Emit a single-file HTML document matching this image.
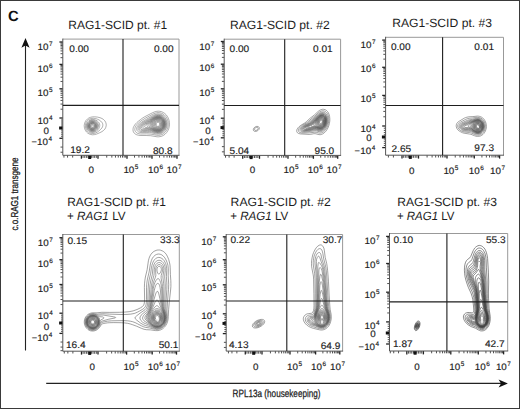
<!DOCTYPE html>
<html><head><meta charset="utf-8"><style>
html,body{margin:0;padding:0;background:#fff;}
body{width:520px;height:409px;overflow:hidden;font-family:"Liberation Sans",sans-serif;}
svg{display:block;text-rendering:geometricPrecision;}
</style></head><body>
<svg width="520" height="409" viewBox="0 0 520 409" font-family="Liberation Sans, sans-serif">
<rect width="520" height="409" fill="#fff"/>
<path d="M62.80 39.10 H179.00 V155.30" fill="none" stroke="#999" stroke-width="1"/>
<path d="M61.00 136.24H62.80M83.06 155.30V157.90M61.00 134.18H62.80M84.72 155.30V157.90M61.00 132.12H62.80M86.38 155.30V157.90M61.00 130.06H62.80M88.04 155.30V157.90M61.00 126.00H62.80M91.36 155.30V157.90M61.00 124.00H62.80M93.02 155.30V157.90M61.00 122.00H62.80M94.68 155.30V157.90M61.00 120.00H62.80M96.34 155.30V157.90M60.50 109.21H62.80M106.73 155.30V157.60M60.50 147.09H62.80M72.67 155.30V157.60M60.50 104.07H62.80M111.84 155.30V157.60M60.50 152.23H62.80M67.56 155.30V157.60M60.50 100.42H62.80M115.46 155.30V157.60M63.94 155.30V157.60M60.50 97.59H62.80M118.27 155.30V157.60M60.50 95.28H62.80M120.57 155.30V157.60M60.50 93.32H62.80M122.51 155.30V157.60M60.50 91.63H62.80M124.19 155.30V157.60M60.50 90.14H62.80M125.67 155.30V157.60M60.50 81.45H62.80M134.53 155.30V157.60M60.50 77.16H62.80M138.93 155.30V157.60M60.50 74.11H62.80M142.05 155.30V157.60M60.50 71.75H62.80M144.47 155.30V157.60M60.50 69.81H62.80M146.45 155.30V157.60M60.50 68.18H62.80M148.13 155.30V157.60M60.50 66.76H62.80M149.58 155.30V157.60M60.50 65.52H62.80M150.86 155.30V157.60M60.50 57.66H62.80M159.53 155.30V157.60M60.50 53.71H62.80M163.93 155.30V157.60M60.50 50.91H62.80M167.05 155.30V157.60M60.50 48.74H62.80M169.47 155.30V157.60M60.50 46.97H62.80M171.45 155.30V157.60M60.50 45.47H62.80M173.13 155.30V157.60M60.50 44.17H62.80M174.58 155.30V157.60M60.50 43.02H62.80M175.86 155.30V157.60" stroke="#505050" stroke-width="1"/>
<path d="M59.40 118.00H62.80" stroke="#222" stroke-width="1.3"/><path d="M98.00 155.30V158.70" stroke="#222" stroke-width="1.3"/><path d="M59.40 138.30H62.80" stroke="#222" stroke-width="1.3"/><path d="M81.40 155.30V158.70" stroke="#222" stroke-width="1.3"/><path d="M59.40 88.80H62.80" stroke="#222" stroke-width="1.3"/><path d="M127.00 155.30V158.70" stroke="#222" stroke-width="1.3"/><path d="M59.40 64.40H62.80" stroke="#222" stroke-width="1.3"/><path d="M152.00 155.30V158.70" stroke="#222" stroke-width="1.3"/><path d="M59.40 42.00H62.80" stroke="#222" stroke-width="1.3"/><path d="M177.00 155.30V158.70" stroke="#222" stroke-width="1.3"/><path d="M59.10 128.00H62.80" stroke="#111" stroke-width="3.0"/><path d="M89.70 155.30V159.00" stroke="#111" stroke-width="3.0"/>
<path d="M62.80 38.60 V155.30 H179.50" fill="none" stroke="#555" stroke-width="1"/>
<g fill="none" stroke="#5e5e5e" stroke-width="0.5" stroke-linejoin="round"><path d="M160.1 136.6 158.6 136.8 157.1 136.8 150.6 135.7 146.1 135.5 140.1 135.5 138.3 135.2 137.1 134.9 136.1 134.5 135.0 133.8 134.2 133.1 133.5 132.1 133.1 131.1 133.0 129.8 133.1 128.6 133.3 127.6 133.9 126.3 134.6 125.1 135.6 123.8 136.8 122.6 138.3 121.3 140.6 119.5 142.8 117.9 144.8 116.7 152.6 112.7 155.1 111.7 156.8 111.3 158.3 111.2 159.8 111.3 161.6 111.7 163.3 112.5 164.8 113.5 166.2 114.8 167.5 116.6 168.5 118.6 169.1 120.6 169.4 122.6 169.5 124.8 169.2 126.8 168.7 128.8 167.8 130.8 166.6 132.6 165.2 134.1 163.6 135.3 161.8 136.2 160.1 136.6Z"/><path d="M94.5 134.6 92.5 134.8 90.8 134.5 89.3 134.0 87.8 133.2 86.5 132.0 85.5 130.6 84.7 128.8 84.3 127.1 84.2 125.3 84.6 123.3 85.2 121.8 86.1 120.3 87.3 119.1 88.8 118.0 90.5 117.3 92.3 116.9 94.5 116.8 97.5 117.1 100.0 117.7 102.0 118.5 103.5 119.5 104.8 120.8 105.7 122.3 106.2 124.1 106.2 125.8 105.7 127.6 104.9 129.1 103.7 130.3 102.0 131.6 99.8 132.7 96.8 134.0 94.5 134.6Z"/><path d="M158.6 135.4 156.3 135.2 152.0 134.3 150.1 134.1 146.6 133.9 140.8 134.0 139.3 133.8 138.1 133.5 137.1 133.1 136.3 132.5 135.6 131.8 135.2 131.1 134.9 130.3 134.8 129.3 134.9 128.6 135.1 127.6 135.6 126.3 136.3 125.3 137.3 124.1 138.3 123.1 141.3 120.7 145.3 118.2 152.8 114.2 155.1 113.2 156.6 112.8 158.1 112.6 159.6 112.7 161.1 113.1 162.6 113.7 164.3 114.9 165.7 116.3 166.7 117.8 167.5 119.6 168.0 121.3 168.2 123.3 168.2 125.3 167.9 127.1 167.2 129.1 166.2 130.8 165.0 132.3 163.6 133.6 162.1 134.5 160.3 135.1 158.6 135.4Z"/><path d="M94.0 133.4 92.5 133.5 91.3 133.4 89.8 133.0 88.5 132.3 87.5 131.3 86.5 130.1 85.9 128.8 85.4 127.1 85.4 125.6 85.6 124.1 86.1 122.6 86.8 121.3 87.8 120.3 89.0 119.3 90.3 118.7 92.0 118.3 93.8 118.3 95.5 118.5 97.5 119.2 99.3 120.1 100.7 121.1 101.7 122.1 102.5 123.3 102.8 124.6 102.8 125.8 102.5 126.8 101.8 128.1 100.7 129.3 99.0 130.8 97.3 132.1 95.5 133.0 94.0 133.4Z"/><path d="M160.1 133.9 158.6 134.1 156.8 134.0 155.3 133.8 151.6 132.8 149.3 132.6 146.8 132.5 142.1 132.6 139.8 132.4 138.3 131.8 137.6 131.2 137.1 130.6 136.7 129.3 136.6 128.6 136.7 127.8 137.1 126.8 137.7 125.8 139.2 124.1 141.6 122.2 145.1 120.0 153.1 115.4 155.1 114.5 156.3 114.2 157.8 113.9 159.1 114.0 160.3 114.2 161.8 114.7 163.1 115.5 164.1 116.3 165.1 117.6 166.0 119.1 166.6 120.6 167.0 122.3 167.1 124.1 167.0 125.8 166.6 127.3 166.0 128.8 165.1 130.3 164.1 131.6 162.8 132.6 161.3 133.5 160.1 133.9Z"/><path d="M93.3 132.4 92.0 132.4 90.8 132.2 89.5 131.6 88.5 130.9 87.8 130.1 87.1 129.1 86.6 127.8 86.4 126.6 86.4 125.1 86.7 123.8 87.3 122.6 88.0 121.6 89.0 120.6 90.0 120.0 91.0 119.7 92.3 119.4 93.5 119.5 94.8 119.7 96.0 120.2 97.3 121.0 98.2 121.8 99.0 122.8 99.5 123.8 99.8 125.1 99.7 126.3 99.4 127.3 98.8 128.6 97.9 129.8 96.8 130.8 95.8 131.5 94.5 132.1 93.3 132.4Z"/><path d="M159.6 133.1 158.1 133.3 156.6 133.1 151.6 131.9 149.3 131.5 147.1 131.4 142.6 131.6 140.6 131.4 139.3 130.8 138.7 130.3 138.3 129.8 138.0 128.8 138.1 127.6 138.5 126.6 139.3 125.4 140.3 124.3 141.5 123.3 144.1 121.7 149.5 118.6 153.1 116.4 154.8 115.5 156.6 114.9 158.3 114.8 160.1 115.0 161.3 115.4 162.6 116.1 163.7 117.1 164.7 118.3 165.4 119.6 166.0 121.1 166.3 122.6 166.4 124.3 166.2 126.1 165.7 127.6 165.2 128.8 164.3 130.1 163.4 131.1 162.3 132.0 161.1 132.7 159.6 133.1Z"/><path d="M93.3 131.6 92.3 131.7 91.3 131.5 90.3 131.2 89.3 130.6 88.5 129.8 87.8 128.8 87.4 127.8 87.1 126.6 87.1 125.3 87.3 124.3 87.7 123.3 88.3 122.3 89.0 121.6 90.0 120.9 91.0 120.4 92.0 120.2 93.3 120.2 94.3 120.4 95.3 120.8 96.3 121.5 97.0 122.1 97.8 123.1 98.2 124.1 98.5 125.1 98.5 126.3 98.2 127.3 97.8 128.3 97.1 129.3 96.3 130.2 95.3 130.9 94.3 131.4 93.3 131.6Z"/><path d="M158.3 132.6 156.1 132.4 151.6 131.1 149.6 130.7 147.3 130.6 143.1 130.7 141.3 130.5 140.3 130.1 139.5 129.3 139.2 128.3 139.3 127.3 139.6 126.6 140.3 125.6 141.3 124.6 142.3 123.8 144.6 122.3 149.3 119.6 153.8 116.7 155.3 116.0 157.1 115.5 158.6 115.4 160.1 115.6 161.3 116.1 162.6 116.9 163.6 117.8 164.5 119.1 165.2 120.6 165.6 122.1 165.8 123.6 165.8 125.1 165.5 126.6 164.9 128.1 164.2 129.3 163.3 130.4 162.3 131.2 161.1 132.0 159.8 132.4 158.3 132.6Z"/><path d="M93.8 130.9 92.8 131.1 91.8 131.0 90.8 130.8 90.0 130.4 89.3 129.8 88.5 129.0 88.0 128.1 87.7 127.1 87.6 126.1 87.7 125.1 87.9 124.1 88.4 123.1 89.0 122.3 89.8 121.7 90.5 121.3 91.5 120.9 92.5 120.8 93.5 120.9 94.5 121.2 95.3 121.6 96.3 122.3 96.9 123.1 97.4 124.1 97.6 124.8 97.7 125.8 97.6 126.8 97.3 127.8 96.9 128.6 96.3 129.3 95.5 130.0 94.8 130.5 93.8 130.9Z"/><path d="M158.1 132.1 157.1 132.1 155.8 131.8 151.6 130.5 149.6 130.0 147.6 129.9 143.6 130.0 142.1 129.8 141.1 129.3 140.6 128.8 140.3 128.1 140.3 127.3 140.6 126.6 141.1 125.8 142.8 124.3 144.6 123.1 149.3 120.3 153.8 117.3 155.6 116.4 157.1 116.0 158.6 115.9 160.1 116.2 161.3 116.7 162.6 117.5 163.6 118.6 164.2 119.6 164.8 120.8 165.2 122.3 165.4 123.8 165.3 125.1 165.0 126.6 164.5 127.8 163.8 129.1 162.8 130.2 161.8 131.0 160.6 131.6 159.3 132.0 158.1 132.1Z"/><path d="M93.8 130.4 93.0 130.6 92.0 130.6 91.0 130.4 90.3 130.0 89.5 129.4 89.0 128.8 88.6 128.1 88.2 127.1 88.1 126.3 88.1 125.3 88.3 124.3 88.7 123.6 89.2 122.8 89.8 122.3 90.5 121.8 91.5 121.4 92.5 121.3 93.3 121.4 94.3 121.7 95.0 122.1 95.7 122.6 96.4 123.3 96.8 124.1 97.0 124.8 97.1 125.6 97.1 126.6 96.5 128.1 96.0 128.8 95.3 129.6 94.5 130.1 93.8 130.4Z"/><path d="M158.8 131.6 157.6 131.7 156.1 131.4 151.3 129.8 149.6 129.4 147.6 129.2 144.1 129.2 142.8 129.0 142.3 128.8 141.7 128.3 141.5 127.8 141.5 127.1 141.7 126.6 142.2 125.8 143.6 124.6 149.1 121.1 154.1 117.6 155.6 116.9 157.1 116.4 158.6 116.4 159.8 116.6 161.1 117.0 162.0 117.6 162.8 118.3 163.6 119.3 164.3 120.6 164.7 121.8 164.9 123.1 165.0 124.6 164.8 125.8 164.4 127.1 163.8 128.3 163.1 129.4 162.1 130.3 161.1 130.9 159.8 131.4 158.8 131.6Z"/><path d="M93.0 130.1 92.3 130.2 91.5 130.1 90.8 129.8 90.0 129.3 89.5 128.8 89.0 128.1 88.7 127.3 88.5 126.6 88.5 125.6 88.6 124.8 88.9 124.1 89.3 123.4 89.8 122.8 90.5 122.3 91.3 121.9 92.0 121.8 92.8 121.7 93.5 121.9 94.3 122.1 95.0 122.6 95.6 123.1 96.1 123.8 96.4 124.6 96.6 125.3 96.5 126.8 96.3 127.6 95.8 128.4 95.2 129.1 94.5 129.6 93.8 129.9 93.0 130.1Z"/><path d="M159.6 131.1 158.1 131.3 156.6 131.2 155.1 130.8 151.6 129.4 149.8 128.9 148.1 128.6 144.1 128.3 143.5 128.1 143.1 127.8 142.8 127.3 142.8 126.8 143.4 125.8 144.5 124.8 149.1 121.8 152.8 118.8 154.3 117.9 155.8 117.2 157.1 116.8 158.6 116.7 159.8 116.9 160.8 117.3 161.8 117.9 162.6 118.6 163.4 119.6 163.9 120.6 164.4 121.8 164.6 123.1 164.7 124.1 164.5 125.3 164.2 126.6 163.8 127.6 163.2 128.6 162.6 129.4 161.6 130.2 160.6 130.8 159.6 131.1Z"/><path d="M93.5 129.6 92.8 129.8 92.0 129.8 90.8 129.4 90.0 128.9 89.6 128.3 89.0 127.1 88.8 126.3 88.8 125.6 89.0 124.8 89.3 124.1 89.8 123.3 90.3 122.9 91.5 122.2 92.3 122.1 93.0 122.2 94.3 122.6 95.0 123.1 95.5 123.6 96.1 124.8 96.2 125.6 96.2 126.3 96.0 127.1 95.7 127.8 94.8 128.9 93.5 129.6Z"/><path d="M159.1 130.9 157.3 130.9 155.6 130.6 150.1 128.3 148.6 127.9 145.4 127.3 144.9 127.1 144.7 126.8 144.7 126.3 145.1 125.6 145.9 124.8 149.3 122.3 152.8 119.3 154.3 118.3 155.8 117.5 157.1 117.2 158.6 117.1 159.8 117.3 160.8 117.7 161.6 118.1 162.4 118.8 163.2 119.8 163.7 120.8 164.1 122.1 164.3 123.3 164.4 124.3 164.2 125.6 163.9 126.6 163.5 127.6 162.8 128.6 162.1 129.4 161.1 130.2 160.1 130.6 159.1 130.9Z"/><path d="M93.0 129.4 91.8 129.4 91.0 129.1 90.5 128.8 89.7 127.8 89.2 126.6 89.2 125.8 89.3 125.1 89.8 123.9 90.3 123.3 90.8 123.0 92.0 122.5 93.3 122.6 94.0 122.8 94.5 123.2 95.3 124.1 95.8 125.3 95.8 126.6 95.3 127.8 94.3 128.8 93.0 129.4Z"/><path d="M158.8 130.6 157.8 130.7 156.8 130.6 154.8 130.0 150.6 128.0 147.8 126.8 147.0 126.3 146.9 125.8 147.2 125.1 147.8 124.3 153.3 119.3 154.6 118.5 155.6 117.9 156.6 117.6 157.6 117.4 158.8 117.4 159.8 117.6 160.9 118.1 161.9 118.8 162.8 119.8 163.4 120.8 163.9 122.1 164.1 123.3 164.1 124.6 163.9 125.8 163.4 127.1 162.8 128.1 162.1 129.0 161.1 129.8 160.1 130.3 158.8 130.6Z"/><path d="M93.5 128.9 92.3 129.1 91.3 128.9 90.3 128.1 89.7 127.1 89.5 125.8 89.8 124.6 90.5 123.6 91.5 123.0 92.8 122.9 93.8 123.2 94.7 123.8 95.3 124.8 95.5 125.8 95.3 127.1 94.5 128.2 93.5 128.9Z"/><path d="M159.6 130.1 158.6 130.3 157.3 130.3 156.1 130.1 154.8 129.6 152.8 128.6 149.9 126.8 149.0 126.1 148.8 125.6 148.8 124.8 149.4 123.8 150.7 122.3 152.3 120.6 153.6 119.5 154.8 118.7 155.8 118.2 157.1 117.8 158.3 117.7 159.3 117.8 160.3 118.1 161.3 118.7 162.1 119.4 162.8 120.3 163.3 121.3 163.7 122.6 163.8 123.8 163.7 125.1 163.4 126.3 162.9 127.3 162.3 128.3 161.6 129.1 160.6 129.7 159.6 130.1Z"/><path d="M93.0 128.6 92.0 128.7 91.0 128.3 90.4 127.6 89.9 126.6 89.9 125.6 90.3 124.4 91.0 123.7 92.0 123.3 93.0 123.3 93.8 123.6 94.6 124.3 95.0 125.3 95.0 126.3 94.7 127.3 94.0 128.1 93.0 128.6Z"/><path d="M159.1 129.9 158.1 130.0 156.8 129.9 155.6 129.5 154.3 129.0 152.4 127.8 151.1 126.8 150.4 126.1 150.1 125.3 150.2 124.3 150.6 123.3 151.7 121.8 152.9 120.6 154.1 119.6 155.3 118.8 156.6 118.3 157.6 118.1 158.6 118.0 159.6 118.2 160.6 118.6 161.3 119.1 162.1 119.9 162.7 120.8 163.1 121.8 163.4 123.1 163.5 124.3 163.4 125.3 163.0 126.6 162.4 127.6 161.8 128.4 160.9 129.1 160.1 129.6 159.1 129.9Z"/><path d="M93.0 128.1 92.0 128.2 91.3 127.9 90.7 127.3 90.4 126.6 90.3 125.6 90.6 124.8 91.0 124.3 91.8 123.8 92.8 123.8 93.5 124.0 94.2 124.6 94.5 125.3 94.6 126.3 94.3 127.1 93.8 127.7 93.0 128.1Z"/><path d="M158.6 129.6 157.6 129.6 156.3 129.4 155.1 128.9 154.0 128.3 152.9 127.6 151.8 126.6 151.1 125.6 151.0 124.8 151.1 123.8 151.6 122.8 152.5 121.6 153.6 120.5 154.6 119.7 155.6 119.0 156.8 118.6 157.8 118.4 158.8 118.4 159.8 118.7 160.8 119.2 161.6 119.8 162.2 120.6 162.7 121.6 163.0 122.6 163.2 123.6 163.1 124.8 162.9 125.8 162.5 126.8 162.0 127.6 161.3 128.4 160.6 128.9 159.6 129.4 158.6 129.6Z"/><path d="M92.5 127.6 91.8 127.5 91.3 127.1 91.0 126.6 90.9 126.1 91.0 125.3 91.3 124.8 91.8 124.4 92.3 124.3 93.0 124.4 93.5 124.8 93.9 125.3 94.0 125.8 93.9 126.6 93.6 127.1 93.0 127.5 92.5 127.6Z"/><path d="M159.3 129.1 158.3 129.3 157.3 129.3 156.3 129.0 155.1 128.5 153.8 127.7 152.8 126.8 152.2 126.1 151.8 125.1 151.7 124.3 152.0 123.3 152.5 122.3 153.3 121.3 154.1 120.5 155.1 119.7 156.1 119.2 157.1 118.9 158.1 118.7 158.8 118.8 159.8 119.1 160.6 119.4 161.3 120.1 161.9 120.8 162.4 121.6 162.7 122.6 162.9 123.6 162.8 124.6 162.6 125.6 162.2 126.6 161.8 127.3 161.1 128.1 160.3 128.7 159.3 129.1Z"/><path d="M92.8 126.7 92.3 126.8 91.9 126.6 91.7 126.3 91.7 125.8 91.8 125.5 92.0 125.3 92.5 125.2 92.9 125.3 93.1 125.6 93.2 126.1 93.0 126.4 92.8 126.7Z"/><path d="M158.1 128.9 157.1 128.8 156.1 128.5 155.1 128.0 154.1 127.3 153.4 126.6 152.8 125.8 152.6 125.1 152.5 124.3 152.6 123.6 153.0 122.6 153.7 121.6 154.4 120.8 155.3 120.1 156.1 119.7 157.1 119.3 158.1 119.2 159.1 119.3 159.8 119.5 160.6 120.0 161.2 120.6 161.8 121.3 162.1 122.1 162.4 123.1 162.5 124.1 162.4 125.1 162.1 126.1 161.6 126.8 161.1 127.6 159.8 128.5 159.1 128.7 158.1 128.9Z"/><path d="M159.1 128.2 158.3 128.3 157.3 128.3 156.3 128.0 155.6 127.6 154.8 127.1 154.0 126.3 153.6 125.6 153.3 124.8 153.3 124.1 153.4 123.3 153.7 122.6 154.2 121.8 154.9 121.1 155.6 120.6 156.3 120.1 157.3 119.8 158.1 119.7 158.8 119.8 159.6 120.0 160.3 120.4 160.8 120.9 161.4 121.6 161.7 122.3 161.9 123.1 162.0 123.8 161.9 124.8 161.4 126.3 160.8 127.1 160.3 127.6 159.1 128.2Z"/><path d="M159.1 127.6 158.3 127.8 157.6 127.8 156.8 127.6 156.1 127.3 155.4 126.8 154.8 126.3 154.3 125.6 154.1 124.8 154.1 123.6 154.3 122.8 154.8 122.1 155.8 121.0 156.6 120.6 157.3 120.3 158.6 120.3 159.8 120.7 160.3 121.1 160.8 121.7 161.2 122.3 161.4 123.1 161.5 124.6 161.1 125.8 160.3 126.9 159.8 127.3 159.1 127.6Z"/><path d="M158.6 127.2 157.3 127.1 156.1 126.6 155.5 126.1 155.1 125.6 154.7 124.6 154.8 123.3 155.3 122.3 156.3 121.4 157.6 120.9 158.8 120.9 159.7 121.3 160.6 122.3 160.9 123.3 160.9 124.6 160.4 125.8 159.6 126.7 158.6 127.2Z"/><path d="M158.8 126.4 157.8 126.5 156.8 126.3 156.1 125.7 155.6 124.8 155.4 123.8 155.8 122.8 156.4 122.1 157.3 121.6 158.3 121.5 159.1 121.7 159.8 122.3 160.2 123.1 160.4 124.1 160.1 125.1 159.6 125.9 158.8 126.4Z"/><path d="M158.6 125.7 158.1 125.8 157.3 125.6 156.8 125.3 156.3 124.6 156.3 123.8 156.6 123.1 157.0 122.6 157.6 122.3 158.3 122.3 158.8 122.5 159.3 122.8 159.6 123.3 159.7 124.1 159.6 124.6 159.1 125.3 158.6 125.7Z"/></g>
<ellipse cx="157.8" cy="125.3" rx="1.0" ry="1.0" fill="#fff" fill-opacity="0.8"/>
<ellipse cx="92.5" cy="126.2" rx="0.8" ry="0.8" fill="#fff" fill-opacity="0.6"/>
<path d="M62.80 105.40 H179.00 M123.00 39.10 V155.30" stroke="#1e1e1e" stroke-width="1.1"/>
<text x="37.55" y="50.00" font-size="9.2" text-anchor="start" fill="#1c1c1c" stroke="#1c1c1c" stroke-width="0.15" textLength="10.95" lengthAdjust="spacingAndGlyphs">10</text>
<text x="49.00" y="46.10" font-size="6.4" text-anchor="start" fill="#1c1c1c" stroke="#1c1c1c" stroke-width="0.15" >7</text>
<text x="37.55" y="71.70" font-size="9.2" text-anchor="start" fill="#1c1c1c" stroke="#1c1c1c" stroke-width="0.15" textLength="10.95" lengthAdjust="spacingAndGlyphs">10</text>
<text x="49.00" y="67.80" font-size="6.4" text-anchor="start" fill="#1c1c1c" stroke="#1c1c1c" stroke-width="0.15" >6</text>
<text x="37.55" y="96.00" font-size="9.2" text-anchor="start" fill="#1c1c1c" stroke="#1c1c1c" stroke-width="0.15" textLength="10.95" lengthAdjust="spacingAndGlyphs">10</text>
<text x="49.00" y="92.10" font-size="6.4" text-anchor="start" fill="#1c1c1c" stroke="#1c1c1c" stroke-width="0.15" >5</text>
<text x="37.55" y="123.50" font-size="9.2" text-anchor="start" fill="#1c1c1c" stroke="#1c1c1c" stroke-width="0.15" textLength="10.95" lengthAdjust="spacingAndGlyphs">10</text>
<text x="49.00" y="119.60" font-size="6.4" text-anchor="start" fill="#1c1c1c" stroke="#1c1c1c" stroke-width="0.15" >4</text>
<text x="49.00" y="134.00" font-size="9.2" text-anchor="end" fill="#1c1c1c" stroke="#1c1c1c" stroke-width="0.15" textLength="5.47" lengthAdjust="spacingAndGlyphs">0</text>
<text x="36.75" y="145.20" font-size="9.2" text-anchor="end" fill="#1c1c1c" stroke="#1c1c1c" stroke-width="0.15" >−</text>
<text x="37.05" y="145.20" font-size="9.2" text-anchor="start" fill="#1c1c1c" stroke="#1c1c1c" stroke-width="0.15" textLength="10.95" lengthAdjust="spacingAndGlyphs">10</text>
<text x="48.50" y="141.30" font-size="6.4" text-anchor="start" fill="#1c1c1c" stroke="#1c1c1c" stroke-width="0.15" >4</text>
<text x="88.60" y="173.00" font-size="9.2" text-anchor="start" fill="#1c1c1c" stroke="#1c1c1c" stroke-width="0.15" textLength="5.47" lengthAdjust="spacingAndGlyphs">0</text>
<text x="123.40" y="172.90" font-size="9.2" text-anchor="start" fill="#1c1c1c" stroke="#1c1c1c" stroke-width="0.15" textLength="10.95" lengthAdjust="spacingAndGlyphs">10</text>
<text x="134.85" y="169.00" font-size="6.4" text-anchor="start" fill="#1c1c1c" stroke="#1c1c1c" stroke-width="0.15" >5</text>
<text x="148.00" y="172.90" font-size="9.2" text-anchor="start" fill="#1c1c1c" stroke="#1c1c1c" stroke-width="0.15" textLength="10.95" lengthAdjust="spacingAndGlyphs">10</text>
<text x="159.45" y="169.00" font-size="6.4" text-anchor="start" fill="#1c1c1c" stroke="#1c1c1c" stroke-width="0.15" >6</text>
<text x="166.50" y="172.90" font-size="9.2" text-anchor="start" fill="#1c1c1c" stroke="#1c1c1c" stroke-width="0.15" textLength="10.95" lengthAdjust="spacingAndGlyphs">10</text>
<text x="177.95" y="169.00" font-size="6.4" text-anchor="start" fill="#1c1c1c" stroke="#1c1c1c" stroke-width="0.15" >7</text>
<text x="69.30" y="52.00" font-size="9.6" text-anchor="start" fill="#1c1c1c" stroke="#1c1c1c" stroke-width="0.15" textLength="19.62" lengthAdjust="spacingAndGlyphs">0.00</text>
<text x="173.60" y="52.00" font-size="9.6" text-anchor="end" fill="#1c1c1c" stroke="#1c1c1c" stroke-width="0.15" textLength="19.62" lengthAdjust="spacingAndGlyphs">0.00</text>
<text x="70.20" y="152.80" font-size="9.6" text-anchor="start" fill="#1c1c1c" stroke="#1c1c1c" stroke-width="0.15" textLength="19.62" lengthAdjust="spacingAndGlyphs">19.2</text>
<text x="172.60" y="154.20" font-size="9.6" text-anchor="end" fill="#1c1c1c" stroke="#1c1c1c" stroke-width="0.15" textLength="19.62" lengthAdjust="spacingAndGlyphs">80.8</text>
<path d="M224.20 39.20 H340.60 V155.40" fill="none" stroke="#999" stroke-width="1"/>
<path d="M222.40 135.76H224.20M244.38 155.40V158.00M222.40 133.72H224.20M246.06 155.40V158.00M222.40 131.68H224.20M247.74 155.40V158.00M222.40 129.64H224.20M249.42 155.40V158.00M222.40 125.72H224.20M252.78 155.40V158.00M222.40 123.84H224.20M254.46 155.40V158.00M222.40 121.96H224.20M256.14 155.40V158.00M222.40 120.08H224.20M257.82 155.40V158.00M221.90 109.35H224.20M268.08 155.40V157.70M221.90 146.65H224.20M234.12 155.40V157.70M221.90 104.17H224.20M273.10 155.40V157.70M221.90 151.83H224.20M229.10 155.40V157.70M221.90 100.50H224.20M276.66 155.40V157.70M225.54 155.40V157.70M221.90 97.65H224.20M279.42 155.40V157.70M221.90 95.32H224.20M281.68 155.40V157.70M221.90 93.35H224.20M283.59 155.40V157.70M221.90 91.65H224.20M285.24 155.40V157.70M221.90 90.15H224.20M286.70 155.40V157.70M221.90 81.39H224.20M295.65 155.40V157.70M221.90 77.06H224.20M300.12 155.40V157.70M221.90 73.99H224.20M303.29 155.40V157.70M221.90 71.61H224.20M305.75 155.40V157.70M221.90 69.66H224.20M307.77 155.40V157.70M221.90 68.01H224.20M309.47 155.40V157.70M221.90 66.58H224.20M310.94 155.40V157.70M221.90 65.33H224.20M312.24 155.40V157.70M221.90 57.37H224.20M320.72 155.40V157.70M221.90 53.37H224.20M324.99 155.40V157.70M221.90 50.53H224.20M328.03 155.40V157.70M221.90 48.33H224.20M330.38 155.40V157.70M221.90 46.54H224.20M332.31 155.40V157.70M221.90 45.02H224.20M333.94 155.40V157.70M221.90 43.70H224.20M335.35 155.40V157.70M221.90 42.54H224.20M336.59 155.40V157.70" stroke="#505050" stroke-width="1"/>
<path d="M220.80 118.20H224.20" stroke="#222" stroke-width="1.3"/><path d="M259.50 155.40V158.80" stroke="#222" stroke-width="1.3"/><path d="M220.80 137.80H224.20" stroke="#222" stroke-width="1.3"/><path d="M242.70 155.40V158.80" stroke="#222" stroke-width="1.3"/><path d="M220.80 88.80H224.20" stroke="#222" stroke-width="1.3"/><path d="M288.00 155.40V158.80" stroke="#222" stroke-width="1.3"/><path d="M220.80 64.20H224.20" stroke="#222" stroke-width="1.3"/><path d="M313.40 155.40V158.80" stroke="#222" stroke-width="1.3"/><path d="M220.80 41.50H224.20" stroke="#222" stroke-width="1.3"/><path d="M337.70 155.40V158.80" stroke="#222" stroke-width="1.3"/><path d="M220.50 127.60H224.20" stroke="#111" stroke-width="3.0"/><path d="M251.10 155.40V159.10" stroke="#111" stroke-width="3.0"/>
<path d="M224.20 38.70 V155.40 H341.10" fill="none" stroke="#555" stroke-width="1"/>
<g fill="none" stroke="#555" stroke-width="0.55" stroke-linejoin="round"><path d="M321.2 134.5 320.2 134.7 318.9 134.6 315.9 133.8 314.9 133.7 313.9 133.7 310.7 134.3 309.2 134.4 300.2 133.9 298.4 133.4 297.4 132.7 297.0 132.2 296.8 131.7 296.7 130.7 296.9 129.7 297.4 128.7 298.1 127.7 299.2 126.6 301.2 125.1 304.7 123.0 306.4 121.7 309.9 118.4 314.3 115.0 318.2 111.4 319.7 110.3 321.2 109.6 322.4 109.3 323.7 109.3 325.2 109.7 326.4 110.4 327.5 111.5 328.5 113.0 329.1 114.5 329.6 116.5 329.8 118.7 329.8 121.0 329.4 123.5 328.8 125.7 327.9 128.0 326.8 129.9 325.7 131.4 324.2 132.9 322.7 133.9 321.2 134.5Z"/><path d="M256.4 131.3 255.7 131.4 254.9 131.4 253.9 131.0 253.6 130.7 253.4 130.2 253.3 129.7 253.4 128.9 253.8 128.2 254.2 127.7 255.4 126.8 256.2 126.5 256.9 126.4 258.2 126.5 258.8 127.0 259.2 127.5 259.3 128.2 259.2 128.9 258.8 129.7 258.2 130.3 257.4 130.8 256.4 131.3Z"/><path d="M321.2 133.0 320.2 133.1 319.2 133.1 316.2 132.3 314.9 132.2 309.9 132.8 303.2 133.0 301.4 132.9 299.9 132.5 299.0 131.9 298.5 131.2 298.3 130.2 298.5 129.4 299.0 128.4 299.6 127.7 300.6 126.7 302.4 125.3 306.1 123.2 307.5 122.2 311.2 118.9 314.9 116.0 318.7 112.5 319.9 111.7 321.2 111.1 322.4 110.8 323.4 110.8 324.7 111.2 325.7 111.7 326.7 112.7 327.6 114.0 328.3 115.7 328.6 117.2 328.8 119.2 328.7 121.2 328.4 123.5 327.8 125.5 327.1 127.2 326.1 128.9 324.9 130.5 323.7 131.7 322.4 132.5 321.2 133.0Z"/><path d="M256.7 130.2 255.7 130.4 254.9 130.2 254.5 129.7 254.5 129.2 254.8 128.4 255.4 127.8 256.4 127.4 257.2 127.4 257.7 127.6 257.9 127.8 258.1 128.2 258.1 128.7 257.7 129.5 257.2 129.9 256.7 130.2Z"/><path d="M304.7 132.0 302.9 132.0 301.7 131.8 300.7 131.3 300.1 130.7 299.9 129.9 300.1 128.9 300.7 128.0 301.7 126.9 303.4 125.7 306.9 123.7 308.4 122.7 314.9 117.2 318.4 114.0 320.2 112.8 321.2 112.4 321.9 112.2 323.4 112.2 324.7 112.7 325.4 113.2 326.0 113.7 327.0 115.2 327.6 117.2 327.9 119.5 327.8 122.0 327.3 124.2 326.3 126.7 325.1 128.7 323.7 130.2 322.2 131.3 321.4 131.6 320.4 131.8 319.2 131.7 316.2 130.9 314.9 130.8 310.9 131.4 304.7 132.0Z"/><path d="M305.4 131.2 303.9 131.3 302.7 131.1 301.7 130.7 301.2 130.2 301.1 129.4 301.3 128.7 301.7 128.0 302.7 127.0 304.2 125.9 307.7 124.0 309.3 123.0 314.9 118.2 318.4 114.9 320.2 113.7 321.7 113.2 322.4 113.1 323.2 113.1 324.4 113.6 325.2 114.1 325.7 114.7 326.6 116.2 327.1 118.0 327.3 120.2 327.1 122.5 326.5 124.7 325.6 126.7 324.5 128.4 323.2 129.7 321.7 130.5 320.4 130.8 319.2 130.8 316.4 130.0 314.9 129.9 305.4 131.2Z"/><path d="M307.2 130.5 304.7 130.7 303.7 130.6 303.0 130.4 302.4 130.2 302.1 129.7 302.0 129.2 302.1 128.7 302.8 127.7 303.9 126.7 305.2 125.9 308.7 124.0 310.4 122.7 314.9 118.9 318.4 115.6 319.9 114.5 321.4 113.8 322.7 113.7 323.9 114.0 324.6 114.5 325.2 115.0 326.0 116.2 326.6 118.0 326.8 120.0 326.7 122.0 326.3 124.0 325.5 126.0 324.4 127.7 323.2 128.9 321.9 129.8 320.4 130.2 319.2 130.1 316.4 129.4 315.2 129.2 313.9 129.3 307.2 130.5Z"/><path d="M307.2 130.0 305.2 130.2 303.9 130.1 303.4 129.9 303.0 129.4 302.9 129.2 302.9 128.7 303.5 127.7 304.7 126.7 309.2 124.2 311.0 123.0 314.9 119.5 318.4 116.1 319.9 115.0 321.4 114.4 322.2 114.2 322.9 114.3 324.2 114.8 325.2 115.7 325.9 117.0 326.3 118.5 326.5 120.2 326.3 122.2 325.8 124.2 325.1 126.0 324.1 127.5 322.9 128.6 321.7 129.4 320.4 129.7 319.2 129.6 316.4 128.8 314.9 128.6 313.7 128.8 307.2 130.0Z"/><path d="M307.7 129.5 305.9 129.7 304.7 129.6 304.2 129.4 303.9 129.2 303.7 128.9 303.7 128.4 304.2 127.7 305.2 126.8 309.4 124.5 311.4 123.2 314.7 120.2 318.4 116.6 319.9 115.4 321.4 114.8 322.7 114.7 323.4 114.9 323.9 115.1 324.9 116.1 325.7 117.5 326.1 119.0 326.2 120.7 326.0 122.5 325.5 124.2 324.7 126.0 323.9 127.2 322.7 128.4 321.4 129.0 320.7 129.2 319.9 129.2 318.9 129.1 316.2 128.2 314.7 128.2 307.7 129.5Z"/><path d="M307.7 129.0 306.2 129.2 305.2 129.1 304.7 128.7 304.7 128.2 305.0 127.7 305.9 127.0 309.7 124.9 311.7 123.5 314.4 121.0 317.9 117.4 319.4 116.1 320.9 115.3 321.7 115.1 322.4 115.1 323.2 115.2 323.7 115.4 324.2 115.8 324.8 116.5 325.5 117.7 325.8 119.2 325.9 120.7 325.7 122.5 325.3 124.2 324.6 125.7 323.7 127.0 322.7 127.9 321.4 128.6 320.7 128.8 319.9 128.8 318.7 128.6 316.2 127.8 314.4 127.7 312.4 128.0 307.7 129.0Z"/><path d="M320.7 128.5 319.2 128.4 316.4 127.5 314.9 127.2 312.9 127.4 307.2 128.6 306.2 128.5 305.9 128.4 305.7 128.2 305.9 127.7 306.4 127.2 310.2 125.1 311.9 123.8 314.7 121.2 318.2 117.5 319.4 116.5 320.4 115.8 321.2 115.5 321.9 115.4 322.7 115.4 323.4 115.7 324.2 116.2 324.7 116.8 325.2 117.7 325.5 118.7 325.7 119.7 325.7 121.0 325.6 122.2 324.9 124.5 324.4 125.5 323.8 126.5 323.2 127.1 322.4 127.8 321.7 128.2 320.7 128.5Z"/><path d="M320.7 128.2 319.9 128.2 319.2 128.1 316.4 127.1 314.9 126.8 312.7 127.0 308.2 127.7 307.7 127.7 307.5 127.5 308.1 127.0 310.7 125.4 312.2 124.1 314.4 121.9 317.9 118.1 319.2 116.9 320.2 116.2 320.9 115.9 321.7 115.7 322.4 115.7 323.2 115.9 323.9 116.4 324.5 117.0 324.9 117.7 325.3 118.7 325.5 119.7 325.4 122.0 324.8 124.2 324.4 125.2 323.7 126.2 322.9 127.1 322.2 127.6 321.4 128.0 320.7 128.2Z"/><path d="M320.7 128.0 319.9 128.0 319.2 127.9 315.7 126.6 314.4 126.4 311.9 126.4 311.3 126.2 311.3 126.0 311.6 125.5 317.4 119.0 318.9 117.5 319.7 116.8 320.7 116.2 321.7 115.9 322.4 115.9 323.2 116.2 323.7 116.5 324.4 117.2 324.8 118.0 325.3 119.7 325.3 120.7 325.2 122.0 324.6 124.2 323.7 126.0 322.9 126.8 322.2 127.4 321.4 127.8 320.7 128.0Z"/><path d="M321.2 127.5 320.2 127.7 318.9 127.4 316.2 126.2 313.9 125.5 313.5 125.2 313.5 125.0 313.7 124.2 314.6 123.0 316.9 120.0 318.4 118.2 319.4 117.3 320.4 116.6 321.4 116.3 322.2 116.2 322.9 116.4 323.4 116.7 323.9 117.1 324.4 117.8 325.0 119.5 325.1 121.5 324.9 122.7 324.6 123.7 323.7 125.5 323.2 126.2 322.4 126.9 321.2 127.5Z"/><path d="M320.9 127.2 320.2 127.3 319.4 127.2 317.7 126.5 315.3 125.0 315.0 124.5 315.0 124.0 315.3 123.0 316.1 121.7 317.3 120.0 318.6 118.5 319.4 117.7 320.4 117.0 321.4 116.7 322.2 116.6 322.9 116.8 323.4 117.1 323.9 117.7 324.3 118.2 324.8 119.7 324.8 121.7 324.3 123.7 323.4 125.4 322.9 126.0 322.2 126.7 320.9 127.2Z"/><path d="M321.2 126.7 320.4 126.9 319.7 126.8 318.7 126.5 317.8 126.0 316.7 125.2 316.3 124.7 316.0 124.2 315.9 123.5 316.2 122.5 316.9 121.2 317.7 120.0 318.8 118.7 319.7 117.9 320.4 117.4 321.4 117.1 322.2 117.1 323.2 117.5 323.7 118.0 324.0 118.5 324.5 120.0 324.5 121.7 324.1 123.5 323.4 125.0 322.4 126.0 321.9 126.4 321.2 126.7Z"/><path d="M321.4 126.2 320.7 126.4 319.9 126.4 319.2 126.2 318.4 125.8 317.6 125.2 317.0 124.5 316.7 124.0 316.7 123.2 316.9 122.2 317.4 121.2 318.8 119.2 319.7 118.3 320.4 117.8 321.2 117.5 321.9 117.5 322.4 117.6 322.9 117.8 323.7 118.7 324.2 120.0 324.2 121.5 324.0 123.0 323.3 124.5 322.4 125.5 321.4 126.2Z"/><path d="M320.4 126.0 319.9 125.9 319.2 125.7 318.4 125.2 317.9 124.7 317.4 123.7 317.3 123.2 317.4 122.5 317.6 121.7 318.1 120.7 319.4 119.0 320.2 118.4 320.9 118.1 321.7 117.9 322.2 118.0 322.7 118.2 323.2 118.7 323.7 119.6 323.9 121.0 323.8 122.5 323.2 124.0 322.4 125.0 321.4 125.7 320.4 126.0Z"/><path d="M320.7 125.5 320.2 125.5 319.4 125.2 318.4 124.5 317.9 123.5 317.9 122.5 318.4 121.0 319.6 119.5 320.7 118.6 321.4 118.4 321.9 118.5 322.7 118.8 323.3 119.7 323.6 121.0 323.5 122.2 323.1 123.5 322.4 124.4 321.7 125.1 320.7 125.5Z"/><path d="M320.7 125.0 319.7 124.8 318.9 124.2 318.6 123.7 318.5 123.2 318.4 122.2 318.9 121.0 319.7 119.9 320.7 119.1 321.2 119.0 321.7 118.9 322.4 119.3 322.9 120.0 323.2 121.0 323.2 122.0 322.8 123.2 322.2 124.1 321.4 124.7 320.7 125.0Z"/><path d="M321.2 124.2 320.4 124.4 319.7 124.1 319.2 123.5 319.0 122.5 319.2 121.5 319.8 120.5 320.7 119.7 321.4 119.5 321.9 119.7 322.4 120.1 322.7 120.7 322.8 121.7 322.5 122.7 322.2 123.4 321.7 123.9 321.2 124.2Z"/><path d="M321.2 123.5 320.7 123.6 320.2 123.5 319.8 123.0 319.6 122.5 319.7 121.7 320.1 121.0 320.7 120.5 321.2 120.3 321.7 120.4 321.9 120.6 322.2 121.2 322.2 121.7 321.9 122.7 321.6 123.2 321.2 123.5Z"/></g>
<path d="M224.20 105.50 H340.60 M284.70 39.20 V155.40" stroke="#1e1e1e" stroke-width="1.1"/>
<text x="199.25" y="49.50" font-size="9.2" text-anchor="start" fill="#1c1c1c" stroke="#1c1c1c" stroke-width="0.15" textLength="10.95" lengthAdjust="spacingAndGlyphs">10</text>
<text x="210.70" y="45.60" font-size="6.4" text-anchor="start" fill="#1c1c1c" stroke="#1c1c1c" stroke-width="0.15" >7</text>
<text x="199.25" y="71.40" font-size="9.2" text-anchor="start" fill="#1c1c1c" stroke="#1c1c1c" stroke-width="0.15" textLength="10.95" lengthAdjust="spacingAndGlyphs">10</text>
<text x="210.70" y="67.50" font-size="6.4" text-anchor="start" fill="#1c1c1c" stroke="#1c1c1c" stroke-width="0.15" >6</text>
<text x="199.25" y="95.80" font-size="9.2" text-anchor="start" fill="#1c1c1c" stroke="#1c1c1c" stroke-width="0.15" textLength="10.95" lengthAdjust="spacingAndGlyphs">10</text>
<text x="210.70" y="91.90" font-size="6.4" text-anchor="start" fill="#1c1c1c" stroke="#1c1c1c" stroke-width="0.15" >5</text>
<text x="199.25" y="123.50" font-size="9.2" text-anchor="start" fill="#1c1c1c" stroke="#1c1c1c" stroke-width="0.15" textLength="10.95" lengthAdjust="spacingAndGlyphs">10</text>
<text x="210.70" y="119.60" font-size="6.4" text-anchor="start" fill="#1c1c1c" stroke="#1c1c1c" stroke-width="0.15" >4</text>
<text x="210.70" y="133.60" font-size="9.2" text-anchor="end" fill="#1c1c1c" stroke="#1c1c1c" stroke-width="0.15" textLength="5.47" lengthAdjust="spacingAndGlyphs">0</text>
<text x="198.45" y="144.80" font-size="9.2" text-anchor="end" fill="#1c1c1c" stroke="#1c1c1c" stroke-width="0.15" >−</text>
<text x="198.75" y="144.80" font-size="9.2" text-anchor="start" fill="#1c1c1c" stroke="#1c1c1c" stroke-width="0.15" textLength="10.95" lengthAdjust="spacingAndGlyphs">10</text>
<text x="210.20" y="140.90" font-size="6.4" text-anchor="start" fill="#1c1c1c" stroke="#1c1c1c" stroke-width="0.15" >4</text>
<text x="249.80" y="172.60" font-size="9.2" text-anchor="start" fill="#1c1c1c" stroke="#1c1c1c" stroke-width="0.15" textLength="5.47" lengthAdjust="spacingAndGlyphs">0</text>
<text x="283.50" y="172.60" font-size="9.2" text-anchor="start" fill="#1c1c1c" stroke="#1c1c1c" stroke-width="0.15" textLength="10.95" lengthAdjust="spacingAndGlyphs">10</text>
<text x="294.95" y="168.70" font-size="6.4" text-anchor="start" fill="#1c1c1c" stroke="#1c1c1c" stroke-width="0.15" >5</text>
<text x="307.80" y="172.60" font-size="9.2" text-anchor="start" fill="#1c1c1c" stroke="#1c1c1c" stroke-width="0.15" textLength="10.95" lengthAdjust="spacingAndGlyphs">10</text>
<text x="319.25" y="168.70" font-size="6.4" text-anchor="start" fill="#1c1c1c" stroke="#1c1c1c" stroke-width="0.15" >6</text>
<text x="326.50" y="172.60" font-size="9.2" text-anchor="start" fill="#1c1c1c" stroke="#1c1c1c" stroke-width="0.15" textLength="10.95" lengthAdjust="spacingAndGlyphs">10</text>
<text x="337.95" y="168.70" font-size="6.4" text-anchor="start" fill="#1c1c1c" stroke="#1c1c1c" stroke-width="0.15" >7</text>
<text x="229.60" y="51.60" font-size="9.6" text-anchor="start" fill="#1c1c1c" stroke="#1c1c1c" stroke-width="0.15" textLength="19.62" lengthAdjust="spacingAndGlyphs">0.00</text>
<text x="332.70" y="51.70" font-size="9.6" text-anchor="end" fill="#1c1c1c" stroke="#1c1c1c" stroke-width="0.15" textLength="19.62" lengthAdjust="spacingAndGlyphs">0.01</text>
<text x="229.60" y="153.80" font-size="9.6" text-anchor="start" fill="#1c1c1c" stroke="#1c1c1c" stroke-width="0.15" textLength="19.62" lengthAdjust="spacingAndGlyphs">5.04</text>
<text x="334.20" y="153.80" font-size="9.6" text-anchor="end" fill="#1c1c1c" stroke="#1c1c1c" stroke-width="0.15" textLength="19.62" lengthAdjust="spacingAndGlyphs">95.0</text>
<path d="M385.60 37.30 H503.50 V155.20" fill="none" stroke="#999" stroke-width="1"/>
<path d="M383.80 145.48H385.60M403.66 155.20V157.80M383.80 143.36H385.60M405.32 155.20V157.80M383.80 141.24H385.60M406.98 155.20V157.80M383.80 139.12H385.60M408.64 155.20V157.80M383.80 134.80H385.60M411.94 155.20V157.80M383.80 132.60H385.60M413.58 155.20V157.80M383.80 130.40H385.60M415.22 155.20V157.80M383.80 128.20H385.60M416.86 155.20V157.80M383.30 116.79H385.60M427.08 155.20V157.50M393.42 155.20V157.50M383.30 111.40H385.60M432.10 155.20V157.50M388.40 155.20V157.50M383.30 107.58H385.60M435.66 155.20V157.50M383.30 104.61H385.60M438.42 155.20V157.50M383.30 102.19H385.60M440.68 155.20V157.50M383.30 100.14H385.60M442.59 155.20V157.50M383.30 98.37H385.60M444.24 155.20V157.50M383.30 96.80H385.60M445.70 155.20V157.50M383.30 86.94H385.60M455.22 155.20V157.50M383.30 81.99H385.60M460.03 155.20V157.50M383.30 78.48H385.60M463.44 155.20V157.50M383.30 75.76H385.60M466.08 155.20V157.50M383.30 73.53H385.60M468.24 155.20V157.50M383.30 71.65H385.60M470.07 155.20V157.50M383.30 70.02H385.60M471.65 155.20V157.50M383.30 68.59H385.60M473.05 155.20V157.50M383.30 59.11H385.60M481.92 155.20V157.50M383.30 54.32H385.60M486.37 155.20V157.50M383.30 50.92H385.60M489.53 155.20V157.50M383.30 48.29H385.60M491.98 155.20V157.50M383.30 46.13H385.60M493.99 155.20V157.50M383.30 44.31H385.60M495.68 155.20V157.50M383.30 42.74H385.60M497.15 155.20V157.50M383.30 41.34H385.60M498.44 155.20V157.50" stroke="#505050" stroke-width="1"/>
<path d="M382.20 126.00H385.60" stroke="#222" stroke-width="1.3"/><path d="M418.50 155.20V158.60" stroke="#222" stroke-width="1.3"/><path d="M382.20 147.60H385.60" stroke="#222" stroke-width="1.3"/><path d="M402.00 155.20V158.60" stroke="#222" stroke-width="1.3"/><path d="M382.20 95.40H385.60" stroke="#222" stroke-width="1.3"/><path d="M447.00 155.20V158.60" stroke="#222" stroke-width="1.3"/><path d="M382.20 67.30H385.60" stroke="#222" stroke-width="1.3"/><path d="M474.30 155.20V158.60" stroke="#222" stroke-width="1.3"/><path d="M382.20 40.10H385.60" stroke="#222" stroke-width="1.3"/><path d="M499.60 155.20V158.60" stroke="#222" stroke-width="1.3"/><path d="M381.90 137.00H385.60" stroke="#111" stroke-width="3.0"/><path d="M410.30 155.20V158.90" stroke="#111" stroke-width="3.0"/>
<path d="M385.60 36.80 V155.20 H504.00" fill="none" stroke="#555" stroke-width="1"/>
<g fill="none" stroke="#555" stroke-width="0.55" stroke-linejoin="round"><path d="M478.9 136.3 477.4 136.4 475.9 136.2 474.4 135.7 470.9 134.3 469.4 134.0 464.1 133.2 462.4 132.7 460.4 131.7 459.1 130.9 458.1 130.1 457.3 129.1 456.7 128.1 456.3 126.8 456.2 125.8 456.3 124.8 456.8 123.5 457.7 122.3 459.4 121.1 464.4 118.1 465.6 117.6 466.9 117.2 468.9 116.8 472.9 116.6 477.4 116.1 478.6 116.2 479.6 116.4 480.6 116.7 481.6 117.2 482.9 118.1 483.9 119.1 484.7 120.3 485.5 121.8 486.0 123.3 486.3 124.8 486.4 126.3 486.3 128.1 485.9 129.6 485.4 131.1 484.7 132.3 483.8 133.6 482.9 134.5 481.6 135.4 480.4 136.0 478.9 136.3Z"/><path d="M479.1 135.1 477.6 135.2 476.1 135.0 474.6 134.5 472.0 133.3 470.6 132.8 469.4 132.5 465.9 132.2 464.4 132.0 462.9 131.6 461.4 131.0 460.4 130.4 459.4 129.6 458.7 128.8 458.1 127.8 457.8 126.8 457.7 126.0 457.8 125.0 458.1 124.3 459.1 123.1 460.4 122.2 465.4 119.5 467.6 118.6 469.1 118.3 472.4 118.0 475.9 117.4 477.1 117.3 479.1 117.5 480.9 118.1 482.1 118.9 483.0 119.8 483.8 120.8 484.5 122.0 484.9 123.3 485.3 124.8 485.4 126.3 485.3 127.5 485.0 129.1 484.7 130.1 483.9 131.6 483.2 132.6 482.4 133.4 481.4 134.2 480.4 134.7 479.1 135.1Z"/><path d="M479.1 134.1 477.6 134.2 475.9 133.9 474.6 133.4 471.6 131.9 470.4 131.5 469.1 131.3 464.9 131.0 463.6 130.7 462.4 130.3 461.4 129.7 460.6 129.1 460.1 128.6 459.6 127.8 459.2 127.0 459.1 126.3 459.2 125.5 459.4 125.0 460.1 124.0 461.4 123.1 466.4 120.7 468.1 120.0 472.4 119.3 475.6 118.5 476.9 118.3 478.6 118.4 480.4 118.9 481.4 119.5 482.1 120.2 482.9 121.0 483.5 122.0 484.0 123.3 484.4 124.5 484.5 125.8 484.5 127.0 484.3 128.3 484.0 129.6 483.5 130.6 482.9 131.6 482.1 132.4 481.1 133.2 480.1 133.7 479.1 134.1Z"/><path d="M478.1 133.6 476.9 133.5 475.6 133.2 474.4 132.6 471.6 131.0 470.4 130.6 468.9 130.3 465.1 130.2 463.9 130.0 462.7 129.6 461.4 128.7 460.5 127.5 460.3 127.0 460.2 126.3 460.4 125.3 461.1 124.4 462.1 123.8 467.4 121.4 468.6 120.9 472.1 120.2 475.4 119.2 476.6 119.0 478.4 119.0 479.4 119.2 480.1 119.5 481.1 120.1 481.9 120.8 482.7 121.8 483.3 122.8 483.7 124.0 483.9 125.0 484.0 126.3 483.9 127.5 483.7 128.6 483.3 129.8 482.7 130.8 481.9 131.8 481.1 132.5 480.1 133.1 479.1 133.4 478.1 133.6Z"/><path d="M478.6 133.1 477.1 133.1 475.6 132.7 474.4 132.1 471.6 130.4 470.1 129.8 468.9 129.6 465.4 129.6 464.4 129.4 463.4 129.1 462.1 128.4 461.4 127.5 461.1 126.5 461.2 125.8 461.7 125.0 462.6 124.4 468.9 121.7 472.1 120.8 474.9 119.9 476.4 119.5 478.1 119.4 479.1 119.6 479.9 119.9 480.9 120.5 481.5 121.0 482.2 121.8 482.8 122.8 483.2 123.8 483.5 124.8 483.6 126.0 483.6 127.0 483.4 128.1 483.0 129.3 482.5 130.3 482.0 131.1 481.3 131.8 480.4 132.4 479.4 132.9 478.6 133.1Z"/><path d="M479.1 132.6 477.6 132.8 476.9 132.7 475.9 132.4 474.4 131.7 471.6 129.8 470.1 129.2 468.6 128.9 465.4 129.0 463.9 128.7 462.9 128.1 462.3 127.5 461.9 126.8 462.0 126.0 462.5 125.3 463.6 124.7 466.1 123.7 468.9 122.4 472.1 121.4 475.1 120.2 476.4 119.9 477.6 119.7 478.6 119.8 479.6 120.1 480.4 120.5 481.1 121.1 481.8 121.8 482.3 122.5 482.8 123.5 483.1 124.5 483.3 126.5 483.0 128.6 482.6 129.6 482.1 130.4 481.6 131.1 480.9 131.7 480.1 132.2 479.1 132.6Z"/><path d="M478.9 132.3 477.4 132.5 476.4 132.3 475.6 132.0 474.1 131.1 471.4 129.1 469.9 128.5 468.4 128.3 465.4 128.3 464.1 128.1 463.6 127.8 463.1 127.3 462.9 126.8 462.9 126.3 463.2 125.8 464.0 125.3 466.4 124.4 469.1 123.0 475.1 120.5 476.4 120.2 477.4 120.0 478.4 120.1 479.4 120.4 480.1 120.7 480.9 121.3 481.6 122.0 482.2 122.8 482.9 124.5 483.0 125.5 483.1 126.5 483.0 127.5 482.7 128.6 482.3 129.6 481.8 130.3 481.1 131.1 480.4 131.7 478.9 132.3Z"/><path d="M478.9 132.1 477.6 132.2 476.1 131.9 474.4 131.1 471.6 128.9 470.4 128.1 468.6 127.6 465.1 127.5 464.6 127.3 464.3 127.0 464.1 126.5 464.4 126.2 464.9 125.9 467.1 124.9 469.9 123.3 475.1 120.8 476.4 120.4 477.4 120.3 478.4 120.3 479.4 120.6 480.1 121.0 480.9 121.5 481.9 122.8 482.6 124.5 482.8 125.5 482.9 126.5 482.8 127.5 482.5 128.6 481.7 130.1 481.1 130.8 480.4 131.4 479.6 131.9 478.9 132.1Z"/><path d="M479.1 131.8 478.4 132.0 477.4 132.0 476.4 131.8 475.4 131.4 474.0 130.6 470.9 127.9 468.4 126.5 468.0 126.3 467.9 126.0 468.0 125.8 468.8 124.8 470.1 123.8 473.5 121.8 475.1 121.0 476.4 120.6 477.6 120.5 478.9 120.6 479.9 121.0 481.1 122.0 482.0 123.3 482.6 125.0 482.7 126.8 482.3 128.6 481.5 130.1 480.4 131.2 479.1 131.8Z"/><path d="M478.9 131.6 477.9 131.8 476.9 131.7 475.9 131.3 474.9 130.8 473.3 129.6 471.4 127.5 470.5 126.5 470.2 125.8 470.2 125.3 470.6 124.5 472.0 123.3 474.4 121.7 475.4 121.2 476.4 120.9 477.4 120.8 478.4 120.8 479.4 121.1 480.1 121.5 480.9 122.1 481.4 122.8 482.0 123.8 482.3 124.8 482.4 125.8 482.4 127.0 482.2 128.1 481.8 129.1 481.4 129.9 480.6 130.7 479.9 131.2 478.9 131.6Z"/><path d="M478.6 131.3 477.6 131.4 476.6 131.2 475.6 130.8 474.8 130.3 473.6 129.3 472.6 128.1 471.9 127.0 471.5 126.0 471.5 125.5 471.7 124.8 472.2 124.0 472.9 123.3 473.8 122.5 474.9 121.9 475.9 121.4 476.9 121.2 477.9 121.1 478.6 121.2 479.4 121.5 480.3 122.0 481.0 122.8 481.5 123.5 481.8 124.3 482.1 125.3 482.2 126.3 482.1 127.3 481.8 128.3 481.5 129.1 481.0 129.8 480.2 130.6 479.4 131.1 478.6 131.3Z"/><path d="M478.9 130.9 478.1 131.0 477.1 131.0 476.1 130.7 475.4 130.3 474.4 129.6 473.5 128.6 472.9 127.5 472.4 126.5 472.3 125.8 472.4 125.0 473.2 123.8 473.9 123.0 474.9 122.3 475.6 121.9 476.6 121.6 477.6 121.5 478.4 121.5 479.1 121.8 479.9 122.2 480.4 122.6 481.0 123.3 481.4 124.0 481.7 125.0 481.8 126.8 481.7 127.8 481.4 128.6 481.0 129.3 480.4 130.0 479.6 130.6 478.9 130.9Z"/><path d="M478.6 130.6 477.9 130.7 476.9 130.5 476.1 130.3 475.4 129.8 474.5 129.1 473.9 128.3 473.5 127.5 473.1 126.5 473.0 125.8 473.2 125.0 473.9 123.8 474.6 123.0 475.3 122.5 476.1 122.2 476.9 121.9 477.6 121.9 478.4 121.9 479.1 122.2 479.7 122.5 480.4 123.1 480.9 123.8 481.2 124.5 481.4 125.3 481.5 126.0 481.5 127.0 481.0 128.6 480.6 129.2 480.0 129.8 479.4 130.3 478.6 130.6Z"/><path d="M478.9 130.1 478.1 130.3 477.4 130.3 476.6 130.1 475.9 129.7 475.1 129.1 474.6 128.6 474.1 127.8 473.7 126.8 473.6 125.5 474.1 124.3 474.6 123.6 475.3 123.0 476.6 122.4 477.4 122.2 478.1 122.3 479.4 122.7 480.4 123.6 480.8 124.3 481.0 125.0 481.2 126.5 480.9 128.1 480.5 128.8 480.0 129.3 479.4 129.8 478.9 130.1Z"/><path d="M478.4 129.8 477.6 129.9 476.9 129.8 475.6 129.1 475.1 128.6 474.6 127.8 474.1 126.5 474.2 125.3 474.5 124.5 474.8 124.0 475.9 123.1 477.1 122.7 478.4 122.7 479.1 123.0 479.5 123.3 480.4 124.3 480.8 125.5 480.8 127.0 480.4 128.3 479.5 129.3 478.4 129.8Z"/><path d="M478.6 129.4 477.6 129.5 476.9 129.4 476.4 129.1 475.4 128.3 474.7 127.0 474.5 125.8 474.9 124.7 475.6 123.8 476.1 123.4 476.9 123.1 478.1 123.0 479.1 123.4 480.0 124.3 480.4 125.3 480.6 126.5 480.2 127.8 479.6 128.7 478.6 129.4Z"/><path d="M478.1 129.1 477.1 129.0 476.1 128.5 475.3 127.5 475.0 126.5 475.0 125.5 475.5 124.5 476.4 123.8 477.4 123.4 478.4 123.5 479.1 123.9 479.9 124.8 480.2 125.8 480.1 127.0 479.7 128.1 478.9 128.8 478.1 129.1Z"/><path d="M478.4 128.6 477.4 128.7 476.6 128.3 475.9 127.6 475.5 126.8 475.4 125.8 475.7 125.0 476.3 124.3 477.1 123.9 477.9 123.8 478.6 124.0 479.4 124.7 479.8 125.5 479.8 126.5 479.6 127.4 479.1 128.1 478.4 128.6Z"/><path d="M478.4 128.1 477.6 128.2 477.0 128.1 476.4 127.5 476.0 126.8 475.9 126.0 476.1 125.3 476.5 124.8 477.1 124.4 477.9 124.3 478.4 124.5 478.9 124.8 479.3 125.5 479.4 126.3 479.3 127.0 478.9 127.7 478.4 128.1Z"/><path d="M477.9 127.6 477.4 127.5 476.9 127.3 476.6 126.8 476.5 126.3 476.5 125.8 476.8 125.3 477.1 125.0 477.6 124.9 478.4 125.1 478.7 125.5 478.9 126.0 478.9 126.5 478.7 127.0 478.4 127.4 477.9 127.6Z"/></g>
<ellipse cx="478.2" cy="127" rx="0.9" ry="1.0" fill="#fff" fill-opacity="0.8"/>
<path d="M385.60 105.50 H503.50 M442.60 37.30 V155.20" stroke="#1e1e1e" stroke-width="1.1"/>
<text x="360.55" y="47.50" font-size="9.2" text-anchor="start" fill="#1c1c1c" stroke="#1c1c1c" stroke-width="0.15" textLength="10.95" lengthAdjust="spacingAndGlyphs">10</text>
<text x="372.00" y="43.60" font-size="6.4" text-anchor="start" fill="#1c1c1c" stroke="#1c1c1c" stroke-width="0.15" >7</text>
<text x="360.55" y="72.00" font-size="9.2" text-anchor="start" fill="#1c1c1c" stroke="#1c1c1c" stroke-width="0.15" textLength="10.95" lengthAdjust="spacingAndGlyphs">10</text>
<text x="372.00" y="68.10" font-size="6.4" text-anchor="start" fill="#1c1c1c" stroke="#1c1c1c" stroke-width="0.15" >6</text>
<text x="360.55" y="101.60" font-size="9.2" text-anchor="start" fill="#1c1c1c" stroke="#1c1c1c" stroke-width="0.15" textLength="10.95" lengthAdjust="spacingAndGlyphs">10</text>
<text x="372.00" y="97.70" font-size="6.4" text-anchor="start" fill="#1c1c1c" stroke="#1c1c1c" stroke-width="0.15" >5</text>
<text x="360.55" y="132.40" font-size="9.2" text-anchor="start" fill="#1c1c1c" stroke="#1c1c1c" stroke-width="0.15" textLength="10.95" lengthAdjust="spacingAndGlyphs">10</text>
<text x="372.00" y="128.50" font-size="6.4" text-anchor="start" fill="#1c1c1c" stroke="#1c1c1c" stroke-width="0.15" >4</text>
<text x="371.80" y="140.50" font-size="9.2" text-anchor="end" fill="#1c1c1c" stroke="#1c1c1c" stroke-width="0.15" textLength="5.47" lengthAdjust="spacingAndGlyphs">0</text>
<text x="359.95" y="153.50" font-size="9.2" text-anchor="end" fill="#1c1c1c" stroke="#1c1c1c" stroke-width="0.15" >−</text>
<text x="360.25" y="153.50" font-size="9.2" text-anchor="start" fill="#1c1c1c" stroke="#1c1c1c" stroke-width="0.15" textLength="10.95" lengthAdjust="spacingAndGlyphs">10</text>
<text x="371.70" y="149.60" font-size="6.4" text-anchor="start" fill="#1c1c1c" stroke="#1c1c1c" stroke-width="0.15" >4</text>
<text x="409.10" y="173.50" font-size="9.2" text-anchor="start" fill="#1c1c1c" stroke="#1c1c1c" stroke-width="0.15" textLength="5.47" lengthAdjust="spacingAndGlyphs">0</text>
<text x="443.40" y="173.50" font-size="9.2" text-anchor="start" fill="#1c1c1c" stroke="#1c1c1c" stroke-width="0.15" textLength="10.95" lengthAdjust="spacingAndGlyphs">10</text>
<text x="454.85" y="169.60" font-size="6.4" text-anchor="start" fill="#1c1c1c" stroke="#1c1c1c" stroke-width="0.15" >5</text>
<text x="468.80" y="173.50" font-size="9.2" text-anchor="start" fill="#1c1c1c" stroke="#1c1c1c" stroke-width="0.15" textLength="10.95" lengthAdjust="spacingAndGlyphs">10</text>
<text x="480.25" y="169.60" font-size="6.4" text-anchor="start" fill="#1c1c1c" stroke="#1c1c1c" stroke-width="0.15" >6</text>
<text x="490.00" y="173.50" font-size="9.2" text-anchor="start" fill="#1c1c1c" stroke="#1c1c1c" stroke-width="0.15" textLength="10.95" lengthAdjust="spacingAndGlyphs">10</text>
<text x="501.45" y="169.60" font-size="6.4" text-anchor="start" fill="#1c1c1c" stroke="#1c1c1c" stroke-width="0.15" >7</text>
<text x="390.90" y="49.80" font-size="9.6" text-anchor="start" fill="#1c1c1c" stroke="#1c1c1c" stroke-width="0.15" textLength="19.62" lengthAdjust="spacingAndGlyphs">0.00</text>
<text x="494.00" y="49.80" font-size="9.6" text-anchor="end" fill="#1c1c1c" stroke="#1c1c1c" stroke-width="0.15" textLength="19.62" lengthAdjust="spacingAndGlyphs">0.01</text>
<text x="391.50" y="151.50" font-size="9.6" text-anchor="start" fill="#1c1c1c" stroke="#1c1c1c" stroke-width="0.15" textLength="19.62" lengthAdjust="spacingAndGlyphs">2.65</text>
<text x="494.00" y="151.40" font-size="9.6" text-anchor="end" fill="#1c1c1c" stroke="#1c1c1c" stroke-width="0.15" textLength="19.62" lengthAdjust="spacingAndGlyphs">97.3</text>
<path d="M62.80 234.50 H179.30 V351.20" fill="none" stroke="#999" stroke-width="1"/>
<path d="M61.00 331.32H62.80M83.14 351.20V353.80M61.00 329.24H62.80M84.78 351.20V353.80M61.00 327.16H62.80M86.42 351.20V353.80M61.00 325.08H62.80M88.06 351.20V353.80M61.00 321.04H62.80M91.36 351.20V353.80M61.00 319.08H62.80M93.02 351.20V353.80M61.00 317.12H62.80M94.68 351.20V353.80M61.00 315.16H62.80M96.34 351.20V353.80M60.50 304.56H62.80M106.61 351.20V353.50M60.50 342.04H62.80M72.89 351.20V353.50M60.50 299.51H62.80M111.65 351.20V353.50M60.50 347.09H62.80M67.85 351.20V353.50M60.50 295.92H62.80M115.22 351.20V353.50M60.50 350.68H62.80M64.28 351.20V353.50M60.50 293.14H62.80M117.99 351.20V353.50M60.50 290.87H62.80M120.26 351.20V353.50M60.50 288.95H62.80M122.17 351.20V353.50M60.50 287.28H62.80M123.83 351.20V353.50M60.50 285.81H62.80M125.29 351.20V353.50M60.50 277.03H62.80M134.31 351.20V353.50M60.50 272.67H62.80M138.81 351.20V353.50M60.50 269.57H62.80M142.01 351.20V353.50M60.50 267.17H62.80M144.49 351.20V353.50M60.50 265.20H62.80M146.52 351.20V353.50M60.50 263.54H62.80M148.23 351.20V353.50M60.50 262.10H62.80M149.72 351.20V353.50M60.50 260.83H62.80M151.03 351.20V353.50M60.50 253.08H62.80M159.52 351.20V353.50M60.50 249.20H62.80M163.79 351.20V353.50M60.50 246.45H62.80M166.83 351.20V353.50M60.50 244.32H62.80M169.18 351.20V353.50M60.50 242.58H62.80M171.11 351.20V353.50M60.50 241.11H62.80M172.74 351.20V353.50M60.50 239.83H62.80M174.15 351.20V353.50M60.50 238.71H62.80M175.39 351.20V353.50" stroke="#505050" stroke-width="1"/>
<path d="M59.40 313.20H62.80" stroke="#222" stroke-width="1.3"/><path d="M98.00 351.20V354.60" stroke="#222" stroke-width="1.3"/><path d="M59.40 333.40H62.80" stroke="#222" stroke-width="1.3"/><path d="M81.50 351.20V354.60" stroke="#222" stroke-width="1.3"/><path d="M59.40 284.50H62.80" stroke="#222" stroke-width="1.3"/><path d="M126.60 351.20V354.60" stroke="#222" stroke-width="1.3"/><path d="M59.40 259.70H62.80" stroke="#222" stroke-width="1.3"/><path d="M152.20 351.20V354.60" stroke="#222" stroke-width="1.3"/><path d="M59.40 237.70H62.80" stroke="#222" stroke-width="1.3"/><path d="M176.50 351.20V354.60" stroke="#222" stroke-width="1.3"/><path d="M59.10 323.00H62.80" stroke="#111" stroke-width="3.0"/><path d="M89.70 351.20V354.90" stroke="#111" stroke-width="3.0"/>
<path d="M62.80 234.00 V351.20 H179.80" fill="none" stroke="#555" stroke-width="1"/>
<g fill="none" stroke="#555" stroke-width="0.55" stroke-linejoin="round"><path d="M93.5 331.0 92.0 331.0 90.5 330.8 89.0 330.2 87.8 329.4 86.6 328.2 85.6 327.0 84.9 325.5 84.5 324.2 84.3 322.8 84.3 321.2 84.5 319.8 85.1 318.0 86.0 316.5 86.8 315.5 88.0 314.4 89.3 313.7 90.8 313.1 92.3 312.8 97.0 312.8 101.8 312.3 109.8 312.4 119.8 312.3 124.5 312.1 129.1 311.7 133.1 310.9 137.1 309.5 140.6 307.8 142.1 306.8 142.9 306.0 143.6 305.2 144.1 304.1 144.3 303.0 144.5 301.5 144.6 299.0 144.4 287.5 144.5 283.8 144.9 280.2 145.4 277.0 147.1 269.9 148.4 260.8 148.9 258.8 149.5 257.0 150.6 254.8 152.2 252.8 153.1 252.0 154.1 251.3 156.1 250.4 157.1 250.1 158.3 250.0 159.6 250.0 160.6 250.2 162.6 251.0 163.6 251.6 164.6 252.4 166.2 254.2 167.6 256.8 168.7 259.5 169.6 263.0 170.0 265.2 170.2 267.8 170.4 274.5 170.8 280.5 170.9 283.5 170.9 286.5 170.6 290.0 169.3 301.8 168.6 309.7 168.3 316.5 168.1 319.0 167.7 321.2 166.9 323.5 166.0 325.2 164.6 327.0 162.8 328.7 161.8 329.3 160.6 329.9 159.3 330.3 158.1 330.6 155.6 330.6 150.8 329.9 146.3 329.7 144.1 329.3 141.6 328.4 136.6 326.2 132.8 324.8 130.1 323.9 127.5 323.3 124.5 322.9 121.3 322.7 113.8 322.6 109.8 322.7 107.8 322.8 105.0 323.2 103.3 323.6 102.3 323.9 101.8 324.2 101.3 324.7 99.5 327.5 98.6 328.5 97.8 329.2 96.8 329.9 95.8 330.4 94.5 330.8 93.5 331.0Z"/><path d="M94.3 330.1 93.0 330.2 91.5 330.2 90.3 329.8 88.8 329.1 87.7 328.2 86.8 327.2 86.0 326.0 85.4 324.5 85.1 323.0 85.0 321.5 85.2 320.0 85.7 318.5 86.4 317.2 87.4 316.0 88.5 315.0 89.8 314.3 91.3 313.8 93.0 313.6 94.3 313.7 97.5 314.1 102.8 313.7 109.3 314.1 122.0 314.5 127.0 314.4 130.8 314.1 134.1 313.5 135.8 312.9 137.3 312.2 139.3 311.2 142.2 309.5 143.6 308.6 144.4 307.8 145.2 306.8 145.7 305.8 146.1 304.5 146.3 302.8 146.5 299.5 146.5 287.8 146.7 284.2 147.1 281.0 147.7 278.0 149.1 272.0 150.4 264.0 151.4 260.5 152.4 258.2 153.6 256.6 155.1 255.2 156.6 254.4 158.3 254.0 160.1 254.2 161.8 254.9 163.3 256.1 164.8 257.8 166.1 260.0 167.1 262.5 167.9 265.2 168.3 268.8 168.2 275.8 168.7 284.2 168.5 289.5 167.6 300.4 167.1 308.2 167.0 311.0 167.3 316.0 167.2 318.8 166.7 321.2 165.9 323.2 165.0 325.0 163.8 326.4 162.1 327.9 160.1 328.9 158.8 329.3 157.8 329.5 155.6 329.4 153.8 329.1 149.8 328.0 145.8 327.4 143.8 326.9 141.6 325.9 137.3 323.7 135.1 322.6 132.6 321.7 130.3 321.2 127.3 320.8 123.5 320.6 111.5 320.8 107.4 321.2 103.0 322.1 101.9 322.5 101.0 323.2 99.2 326.5 98.0 328.0 97.3 328.6 96.3 329.3 95.5 329.7 94.3 330.1Z"/><path d="M158.8 328.5 156.8 328.7 154.6 328.4 152.8 327.9 149.3 326.4 145.3 325.5 143.3 324.7 140.6 323.1 136.8 320.2 135.3 318.8 135.1 318.2 135.0 317.8 135.3 317.0 136.7 315.8 140.0 313.2 143.9 310.5 145.1 309.6 146.1 308.5 146.9 307.0 147.5 304.8 147.8 302.0 148.1 289.0 148.5 283.8 149.1 280.0 150.7 273.2 151.4 267.8 151.9 265.5 152.4 263.8 153.0 262.2 153.7 260.8 154.6 259.6 155.6 258.6 156.6 258.0 157.6 257.6 158.8 257.4 160.1 257.6 161.1 258.0 162.1 258.6 163.1 259.4 164.1 260.6 164.9 262.0 165.6 263.5 166.1 265.0 166.5 266.8 166.7 268.8 166.7 270.8 166.4 276.5 166.8 282.8 166.9 285.8 166.8 289.8 166.1 300.0 165.9 306.8 166.0 310.2 166.6 316.2 166.5 318.2 166.3 319.8 166.0 321.2 165.4 322.8 164.6 324.2 163.7 325.5 162.7 326.5 161.6 327.4 160.1 328.1 158.8 328.5Z"/><path d="M94.0 329.5 92.8 329.7 91.5 329.6 90.3 329.2 89.0 328.6 88.0 327.8 87.1 326.8 86.5 325.8 85.9 324.5 85.6 323.2 85.6 321.8 85.7 320.5 86.1 319.0 86.8 317.8 87.5 316.8 88.3 316.0 89.5 315.1 91.3 314.4 93.0 314.2 94.8 314.4 98.5 315.2 102.0 315.0 103.5 315.1 113.7 316.8 115.4 317.2 115.7 317.5 115.4 317.8 114.8 318.0 108.8 319.2 102.3 321.0 101.5 321.3 101.0 321.7 100.5 322.4 99.1 325.5 97.9 327.2 97.1 328.0 96.3 328.6 95.3 329.1 94.0 329.5Z"/><path d="M158.1 328.0 156.1 328.0 154.1 327.6 152.3 326.8 148.6 324.8 145.3 323.6 143.9 323.0 142.3 321.9 140.9 320.5 140.2 319.2 139.9 318.0 140.2 316.8 141.1 315.2 142.6 313.8 145.3 311.6 146.3 310.6 147.3 309.3 148.1 307.5 148.6 305.2 149.1 301.8 149.6 289.2 150.0 284.8 150.7 281.0 152.3 274.5 152.9 268.8 153.2 266.8 153.7 265.2 154.2 264.0 154.8 262.9 155.6 261.9 156.3 261.2 157.3 260.6 158.1 260.4 159.1 260.3 160.1 260.4 161.1 260.8 162.1 261.5 163.1 262.5 163.9 263.8 164.5 265.0 164.9 266.2 165.2 267.8 165.3 270.5 164.8 275.0 164.7 276.8 165.2 283.8 165.3 286.8 164.9 299.0 164.9 306.5 165.0 309.5 165.9 314.8 166.0 317.2 165.9 319.2 165.4 321.2 164.7 323.0 163.8 324.5 162.6 325.9 161.3 326.8 159.8 327.6 158.1 328.0Z"/><path d="M94.0 329.0 93.0 329.2 92.0 329.1 91.0 328.9 90.0 328.6 89.3 328.2 88.3 327.4 87.5 326.5 86.9 325.5 86.4 324.5 86.2 323.5 86.0 322.2 86.0 321.2 86.2 320.2 86.6 319.0 87.1 318.0 87.7 317.2 88.8 316.2 90.0 315.4 91.5 314.9 93.0 314.8 94.0 314.8 95.3 315.1 99.5 316.7 102.5 316.9 103.5 317.3 103.9 317.8 103.8 318.2 103.1 318.8 101.3 319.6 100.5 320.4 99.0 324.8 98.4 325.8 97.8 326.7 97.0 327.5 96.0 328.2 95.0 328.7 94.0 329.0Z"/><path d="M157.8 327.5 156.8 327.6 155.6 327.4 154.6 327.2 153.3 326.7 151.6 325.7 148.1 323.3 145.1 321.6 144.0 320.8 143.2 319.8 142.7 318.8 142.6 317.8 142.9 316.8 143.6 315.5 144.4 314.5 146.6 312.4 147.6 311.1 148.3 309.8 149.1 307.9 149.6 305.5 150.1 301.8 151.0 289.5 151.4 285.8 152.1 282.0 153.9 275.5 154.1 273.8 154.3 269.5 154.6 267.5 155.3 265.4 155.8 264.6 156.5 263.8 157.1 263.2 157.8 262.8 158.6 262.6 159.3 262.5 160.1 262.7 160.8 263.0 161.6 263.5 162.3 264.3 162.8 265.0 163.3 266.0 163.6 267.0 163.9 268.2 163.8 270.8 163.1 275.2 162.9 277.0 163.1 279.0 163.7 283.8 163.9 286.8 163.7 298.0 163.8 304.0 164.1 308.5 165.4 314.8 165.6 317.5 165.4 319.5 164.9 321.2 164.2 323.0 163.4 324.2 162.2 325.5 160.8 326.6 159.3 327.2 157.8 327.5Z"/><path d="M93.0 328.8 91.8 328.7 90.5 328.4 89.5 327.9 88.4 327.0 87.6 326.0 86.9 324.8 86.5 323.5 86.4 322.2 86.5 320.8 86.8 319.5 87.4 318.2 88.2 317.2 89.0 316.5 90.3 315.7 91.5 315.3 92.8 315.2 94.0 315.3 95.3 315.6 96.5 316.1 97.5 316.6 98.4 317.2 99.2 318.0 99.5 318.8 99.7 319.5 99.5 321.2 99.2 323.0 98.7 324.5 97.8 326.0 97.0 327.0 95.8 327.9 94.5 328.5 93.0 328.8Z"/><path d="M158.6 327.0 157.1 327.2 155.3 327.0 153.6 326.3 152.1 325.5 150.2 324.0 146.0 320.2 145.1 319.0 144.9 317.8 145.0 317.0 145.4 316.0 147.6 312.9 148.8 310.7 149.6 308.9 150.2 306.8 150.6 304.2 151.1 300.5 152.2 289.5 152.7 285.8 153.5 282.2 155.3 277.5 155.8 275.8 155.8 274.2 155.6 270.2 155.7 269.0 155.9 267.8 156.6 266.3 157.3 265.3 158.3 264.7 159.3 264.5 160.1 264.6 160.6 264.9 161.5 265.8 162.2 267.0 162.6 268.5 162.6 269.5 162.5 270.8 162.2 272.0 161.2 275.5 161.1 277.5 161.2 278.8 162.2 283.5 162.5 286.5 162.8 298.8 163.3 306.8 163.7 309.2 165.0 314.5 165.2 316.0 165.2 317.5 165.1 319.2 164.7 321.0 164.2 322.2 163.3 323.8 162.3 325.0 161.3 325.8 159.8 326.6 158.6 327.0Z"/><path d="M94.0 328.3 92.8 328.5 91.5 328.4 90.3 327.9 89.3 327.4 88.4 326.5 87.6 325.5 87.1 324.5 86.8 323.2 86.7 322.0 86.8 320.8 87.1 319.5 87.8 318.2 88.6 317.2 89.5 316.5 90.5 315.9 91.8 315.6 93.0 315.5 94.3 315.6 95.3 315.9 96.5 316.5 97.6 317.2 98.3 318.0 98.8 318.8 99.1 319.8 99.1 321.0 98.9 322.5 98.5 324.0 98.0 325.2 97.3 326.2 96.3 327.2 95.3 327.8 94.0 328.3Z"/><path d="M159.1 274.0 158.6 274.1 158.3 273.9 157.8 273.3 157.6 272.9 157.1 271.3 156.9 269.8 157.1 268.5 157.6 267.2 158.3 266.6 158.8 266.3 159.3 266.3 160.1 266.5 160.8 267.3 161.2 268.2 161.4 269.5 161.1 271.0 160.6 272.2 159.8 273.5 159.1 274.0Z"/><path d="M158.3 326.8 156.8 326.9 155.1 326.6 153.3 325.9 151.8 324.9 149.7 323.0 147.6 320.5 146.7 319.0 146.4 317.8 146.4 317.0 146.7 316.0 149.6 310.4 150.3 308.5 150.7 306.8 151.9 299.8 153.3 288.5 153.8 286.0 154.3 284.2 155.1 282.1 156.1 280.3 157.1 279.1 157.6 278.7 158.1 278.6 158.3 278.6 158.8 278.9 159.3 279.5 159.8 280.4 160.6 282.5 161.2 285.0 161.6 288.2 162.0 298.0 162.6 306.0 163.1 308.8 164.6 314.2 164.9 315.8 165.0 317.2 164.9 319.0 164.5 320.8 163.9 322.2 163.2 323.5 162.2 324.8 161.1 325.7 159.8 326.4 158.3 326.8Z"/><path d="M93.0 328.3 91.8 328.2 90.8 327.9 89.8 327.4 88.8 326.7 88.0 325.8 87.4 324.8 87.0 323.5 86.9 322.2 86.9 321.0 87.2 319.8 87.8 318.5 88.5 317.6 89.5 316.7 90.5 316.2 91.5 315.8 92.8 315.7 94.0 315.8 95.0 316.1 96.3 316.6 97.2 317.2 97.9 318.0 98.4 318.8 98.7 319.8 98.9 320.8 98.8 322.2 98.4 323.8 97.9 325.0 97.2 326.0 96.3 326.9 95.3 327.6 94.0 328.1 93.0 328.3Z"/><path d="M158.3 326.5 156.8 326.6 155.1 326.3 153.3 325.6 151.8 324.5 150.0 322.8 148.6 320.8 147.8 319.0 147.5 317.5 147.6 316.5 147.9 315.2 150.4 309.8 151.4 306.8 152.9 299.2 154.3 290.2 155.1 287.2 155.6 285.7 156.3 284.3 157.1 283.6 157.8 283.4 158.6 283.7 159.1 284.4 159.6 285.5 160.0 287.2 160.4 290.0 161.1 298.8 162.1 306.2 162.6 308.8 164.4 314.2 164.6 315.8 164.8 317.2 164.6 319.0 164.3 320.8 163.7 322.2 162.9 323.5 161.8 324.7 160.8 325.5 159.6 326.2 158.3 326.5Z"/><path d="M93.3 328.0 92.3 328.0 91.0 327.8 90.0 327.3 89.0 326.6 88.3 325.8 87.7 324.8 87.2 323.5 87.1 322.5 87.1 321.2 87.4 320.0 87.8 319.0 88.5 318.0 89.3 317.2 90.3 316.5 91.3 316.1 92.5 315.9 93.5 315.9 94.8 316.2 95.8 316.6 96.7 317.2 97.5 318.0 98.0 318.8 98.4 319.8 98.6 320.8 98.5 322.2 98.3 323.5 97.8 324.8 97.2 325.8 96.3 326.7 95.3 327.4 94.3 327.8 93.3 328.0Z"/><path d="M157.8 326.3 156.3 326.3 154.8 325.9 153.3 325.2 151.8 324.0 150.4 322.5 149.3 320.8 148.7 319.2 148.4 317.5 148.5 316.2 148.9 314.5 151.2 309.2 152.0 307.0 154.1 299.2 155.6 294.1 156.1 292.8 156.6 291.9 157.1 291.3 157.3 291.3 157.8 291.5 158.1 291.8 158.8 293.8 159.8 298.3 161.5 306.8 162.1 308.8 163.9 313.8 164.3 315.5 164.5 317.2 164.4 319.0 164.1 320.5 163.5 322.0 162.7 323.2 161.8 324.3 160.6 325.3 159.3 325.9 157.8 326.3Z"/><path d="M93.3 327.8 92.3 327.8 91.3 327.6 90.3 327.2 89.3 326.5 88.6 325.8 87.9 324.8 87.5 323.5 87.3 322.5 87.3 321.2 87.5 320.2 87.9 319.2 88.6 318.2 89.3 317.5 90.3 316.8 91.3 316.4 92.5 316.1 93.5 316.2 94.5 316.4 95.5 316.8 96.6 317.5 97.3 318.2 97.8 319.0 98.2 320.0 98.3 321.0 98.3 322.2 98.0 323.5 97.6 324.5 97.0 325.5 96.3 326.3 95.3 327.1 94.3 327.6 93.3 327.8Z"/><path d="M158.6 325.8 157.1 325.9 155.6 325.7 154.1 325.1 152.6 324.1 151.2 322.8 150.2 321.2 149.5 319.5 149.2 317.8 149.3 315.8 149.9 313.8 152.7 307.8 154.6 303.1 155.3 301.5 155.8 300.8 156.6 300.2 157.1 300.1 157.6 300.2 158.1 300.7 158.6 301.5 159.1 302.5 160.8 307.5 162.7 311.5 163.4 313.2 163.9 315.0 164.1 316.8 164.1 318.2 163.9 319.8 163.4 321.2 162.8 322.5 162.1 323.6 161.1 324.5 159.8 325.3 158.6 325.8Z"/><path d="M94.0 327.3 93.0 327.5 92.0 327.5 91.0 327.2 90.0 326.7 89.3 326.1 88.6 325.2 88.0 324.2 87.7 323.2 87.6 322.2 87.7 321.0 87.9 320.0 88.4 319.0 89.0 318.1 89.8 317.5 90.8 316.9 91.8 316.6 92.8 316.5 93.8 316.5 94.8 316.8 95.8 317.4 96.6 318.0 97.2 318.8 97.6 319.5 97.9 320.5 98.0 321.5 97.9 322.8 97.6 323.8 97.2 324.8 96.5 325.6 95.8 326.4 95.0 326.9 94.0 327.3Z"/><path d="M158.3 325.3 157.1 325.4 155.6 325.2 154.1 324.5 152.8 323.6 151.8 322.5 150.8 321.0 150.3 319.5 150.0 318.0 150.0 316.5 150.3 315.0 150.9 313.2 151.7 311.8 153.3 309.1 154.8 307.1 155.8 306.1 156.3 305.8 156.8 305.7 157.6 305.9 158.6 306.7 160.1 308.6 161.6 310.8 162.4 312.2 163.0 313.8 163.4 315.2 163.7 316.8 163.7 318.2 163.4 319.8 163.1 321.0 162.4 322.2 161.6 323.4 160.6 324.3 159.6 324.9 158.3 325.3Z"/><path d="M93.5 327.0 92.8 327.1 91.8 327.0 90.8 326.7 90.0 326.2 89.3 325.5 88.7 324.8 88.2 323.8 88.0 322.8 88.0 321.5 88.2 320.5 88.6 319.5 89.0 318.8 89.8 318.0 90.5 317.5 91.3 317.1 92.3 316.9 93.3 316.9 94.0 317.0 95.0 317.4 95.8 317.9 96.4 318.5 96.9 319.2 97.3 320.0 97.5 321.0 97.6 322.0 97.4 323.0 97.1 324.0 96.7 324.8 96.0 325.6 95.3 326.3 94.5 326.7 93.5 327.0Z"/><path d="M157.6 324.8 156.3 324.7 155.1 324.3 153.8 323.6 152.8 322.8 152.0 321.8 151.4 320.5 151.0 319.2 150.8 317.8 150.8 316.2 151.2 314.8 151.7 313.5 152.6 312.0 153.6 310.6 154.8 309.4 155.8 308.8 156.8 308.6 157.8 308.7 158.8 309.2 160.1 310.3 161.1 311.4 161.9 312.8 162.6 314.2 163.0 315.8 163.2 317.2 163.1 318.8 162.8 320.0 162.4 321.2 161.6 322.5 160.8 323.3 159.8 324.1 158.8 324.5 157.6 324.8Z"/><path d="M93.3 326.5 92.3 326.6 91.5 326.4 90.8 326.1 90.0 325.6 89.5 325.0 89.0 324.2 88.7 323.5 88.4 322.5 88.4 321.5 88.7 320.5 89.0 319.8 89.5 319.0 90.0 318.4 90.8 317.9 91.5 317.6 92.3 317.4 93.3 317.4 94.0 317.6 94.8 317.9 95.5 318.4 96.1 319.0 96.6 319.8 97.0 321.2 97.1 322.0 96.9 323.0 96.6 324.0 96.1 324.8 95.5 325.4 94.8 326.0 94.0 326.4 93.3 326.5Z"/><path d="M158.3 324.0 157.3 324.2 156.1 324.0 155.1 323.7 154.0 323.0 153.1 322.1 152.3 321.0 151.8 319.8 151.5 318.5 151.5 317.2 151.7 315.8 152.1 314.5 152.7 313.2 153.6 312.0 154.6 311.0 155.6 310.4 156.6 310.1 157.6 310.1 158.6 310.4 159.6 311.1 160.3 311.7 161.1 312.8 161.8 314.0 162.3 315.2 162.6 316.5 162.6 317.8 162.5 319.0 162.2 320.2 161.7 321.2 161.1 322.2 160.3 323.0 159.3 323.7 158.3 324.0Z"/><path d="M93.3 326.0 92.5 326.1 91.8 326.0 91.0 325.7 90.4 325.2 89.9 324.8 89.4 324.0 89.1 323.2 88.9 322.5 89.0 321.0 89.3 320.2 89.7 319.5 90.1 319.0 90.8 318.5 91.5 318.1 92.3 317.9 93.0 317.9 93.8 318.0 95.0 318.7 96.0 319.8 96.3 320.5 96.5 321.2 96.5 322.2 96.4 323.0 95.8 324.4 94.8 325.4 94.0 325.8 93.3 326.0Z"/><path d="M157.8 323.5 156.8 323.6 155.8 323.4 154.8 322.9 154.1 322.3 153.3 321.5 152.7 320.5 152.3 319.5 152.1 318.2 152.1 317.0 152.3 315.8 152.7 314.5 153.3 313.5 154.1 312.5 154.8 311.9 155.8 311.3 156.8 311.1 157.8 311.1 158.6 311.4 159.6 312.0 160.3 312.7 161.0 313.8 161.6 314.8 161.9 315.8 162.1 317.0 162.1 318.2 162.0 319.2 161.7 320.2 161.1 321.4 160.3 322.2 159.6 322.9 158.8 323.3 157.8 323.5Z"/><path d="M93.3 325.5 92.0 325.5 91.3 325.2 90.8 324.9 90.3 324.5 89.8 323.8 89.4 322.5 89.4 321.8 89.5 321.0 90.0 319.8 91.0 318.9 92.3 318.4 93.5 318.5 94.3 318.8 94.8 319.1 95.3 319.6 95.7 320.2 96.1 321.5 96.0 322.8 95.5 324.0 94.5 325.0 94.0 325.3 93.3 325.5Z"/><path d="M157.6 323.0 156.6 323.0 155.8 322.8 155.1 322.4 154.2 321.8 153.6 321.0 153.1 320.0 152.7 319.0 152.6 318.0 152.7 316.8 152.9 315.8 153.3 314.8 153.8 313.8 154.6 313.0 155.3 312.4 156.1 312.1 157.1 311.9 158.1 312.0 158.8 312.3 159.6 312.9 160.2 313.5 160.7 314.2 161.2 315.2 161.5 316.2 161.7 317.5 161.6 318.5 161.4 319.5 161.0 320.5 160.5 321.2 160.1 321.8 159.3 322.4 158.6 322.8 157.6 323.0Z"/><path d="M93.3 325.0 92.5 325.1 92.0 325.0 91.0 324.5 90.3 323.7 89.9 322.5 89.9 321.2 90.3 320.2 90.8 319.7 91.3 319.3 92.3 318.9 93.5 319.0 94.5 319.5 95.0 320.0 95.3 320.5 95.6 321.5 95.5 322.8 95.1 323.8 94.3 324.6 93.3 325.0Z"/><path d="M157.3 322.5 156.6 322.4 155.8 322.2 155.1 321.8 154.3 321.1 153.7 320.2 153.4 319.5 153.2 318.8 153.1 317.8 153.2 316.8 153.4 315.8 153.8 314.9 154.3 314.1 154.9 313.5 155.6 313.0 156.3 312.7 157.1 312.6 157.8 312.7 158.6 312.9 159.3 313.4 159.9 314.0 160.4 314.8 160.8 315.5 161.1 316.5 161.2 317.5 161.2 318.5 160.9 319.5 160.6 320.2 160.1 321.0 159.6 321.6 158.8 322.1 158.1 322.4 157.3 322.5Z"/><path d="M93.3 324.5 92.3 324.5 91.5 324.2 90.7 323.5 90.3 322.5 90.3 321.5 90.7 320.5 91.5 319.8 92.3 319.4 93.3 319.5 94.0 319.8 94.7 320.5 95.1 321.5 95.1 322.5 94.8 323.3 94.2 324.0 93.3 324.5Z"/><path d="M158.3 321.8 157.6 322.0 156.8 322.0 155.5 321.5 154.9 321.0 154.3 320.3 153.9 319.5 153.7 318.8 153.6 318.0 153.6 317.0 153.8 316.0 154.2 315.2 154.7 314.5 155.3 313.9 155.8 313.6 156.6 313.3 157.8 313.3 158.6 313.6 159.1 313.9 160.1 315.1 160.5 316.0 160.7 316.8 160.7 318.2 160.6 319.0 160.3 319.9 159.5 321.0 158.9 321.5 158.3 321.8Z"/><path d="M93.0 324.0 92.3 324.0 91.5 323.6 91.0 323.0 90.8 322.2 90.8 321.5 91.2 320.8 91.8 320.2 92.5 319.9 93.3 320.0 94.0 320.5 94.4 321.0 94.6 321.8 94.6 322.5 94.2 323.2 93.7 323.8 93.0 324.0Z"/><path d="M158.1 321.3 157.6 321.4 156.8 321.4 156.1 321.2 155.6 320.9 155.1 320.4 154.6 319.8 154.1 318.5 154.1 317.0 154.3 316.2 154.6 315.5 155.1 314.9 155.6 314.4 156.1 314.1 156.8 313.9 157.6 313.9 158.1 314.0 159.1 314.6 159.9 315.8 160.3 317.0 160.3 318.5 159.8 319.8 159.1 320.8 158.1 321.3Z"/><path d="M93.3 323.3 92.8 323.4 92.3 323.3 91.8 323.0 91.5 322.5 91.4 322.0 91.5 321.3 91.8 321.0 92.3 320.6 92.8 320.6 93.3 320.7 93.7 321.0 94.0 321.5 94.0 322.0 93.9 322.5 93.6 323.0 93.3 323.3Z"/><path d="M157.8 320.8 156.8 320.9 155.8 320.4 155.0 319.5 154.6 318.2 154.6 317.0 155.1 315.8 155.8 315.0 156.8 314.5 157.8 314.6 158.8 315.1 159.4 316.0 159.8 317.2 159.8 318.5 159.4 319.5 158.8 320.3 157.8 320.8Z"/><path d="M92.8 322.0 92.7 322.0 92.8 322.0Z"/><path d="M157.8 319.8 157.1 319.9 156.3 319.6 155.7 319.0 155.4 318.2 155.4 317.2 155.7 316.5 156.1 316.0 156.8 315.6 157.6 315.6 158.1 315.8 158.7 316.5 159.0 317.2 159.0 318.0 158.8 318.8 158.3 319.5 157.8 319.8Z"/></g>
<ellipse cx="92.7" cy="322" rx="1.5" ry="1.6" fill="#fff" fill-opacity="0.9"/>
<ellipse cx="157.6" cy="319.5" rx="1.4" ry="2.2" fill="#fff" fill-opacity="0.8"/>
<path d="M62.80 301.00 H179.30 M123.30 234.50 V351.20" stroke="#1e1e1e" stroke-width="1.1"/>
<text x="37.85" y="245.60" font-size="9.2" text-anchor="start" fill="#1c1c1c" stroke="#1c1c1c" stroke-width="0.15" textLength="10.95" lengthAdjust="spacingAndGlyphs">10</text>
<text x="49.30" y="241.70" font-size="6.4" text-anchor="start" fill="#1c1c1c" stroke="#1c1c1c" stroke-width="0.15" >7</text>
<text x="37.85" y="267.30" font-size="9.2" text-anchor="start" fill="#1c1c1c" stroke="#1c1c1c" stroke-width="0.15" textLength="10.95" lengthAdjust="spacingAndGlyphs">10</text>
<text x="49.30" y="263.40" font-size="6.4" text-anchor="start" fill="#1c1c1c" stroke="#1c1c1c" stroke-width="0.15" >6</text>
<text x="37.85" y="291.60" font-size="9.2" text-anchor="start" fill="#1c1c1c" stroke="#1c1c1c" stroke-width="0.15" textLength="10.95" lengthAdjust="spacingAndGlyphs">10</text>
<text x="49.30" y="287.70" font-size="6.4" text-anchor="start" fill="#1c1c1c" stroke="#1c1c1c" stroke-width="0.15" >5</text>
<text x="37.85" y="319.10" font-size="9.2" text-anchor="start" fill="#1c1c1c" stroke="#1c1c1c" stroke-width="0.15" textLength="10.95" lengthAdjust="spacingAndGlyphs">10</text>
<text x="49.30" y="315.20" font-size="6.4" text-anchor="start" fill="#1c1c1c" stroke="#1c1c1c" stroke-width="0.15" >4</text>
<text x="49.30" y="329.60" font-size="9.2" text-anchor="end" fill="#1c1c1c" stroke="#1c1c1c" stroke-width="0.15" textLength="5.47" lengthAdjust="spacingAndGlyphs">0</text>
<text x="37.05" y="340.80" font-size="9.2" text-anchor="end" fill="#1c1c1c" stroke="#1c1c1c" stroke-width="0.15" >−</text>
<text x="37.35" y="340.80" font-size="9.2" text-anchor="start" fill="#1c1c1c" stroke="#1c1c1c" stroke-width="0.15" textLength="10.95" lengthAdjust="spacingAndGlyphs">10</text>
<text x="48.80" y="336.90" font-size="6.4" text-anchor="start" fill="#1c1c1c" stroke="#1c1c1c" stroke-width="0.15" >4</text>
<text x="89.50" y="369.50" font-size="9.2" text-anchor="start" fill="#1c1c1c" stroke="#1c1c1c" stroke-width="0.15" textLength="5.47" lengthAdjust="spacingAndGlyphs">0</text>
<text x="123.50" y="369.50" font-size="9.2" text-anchor="start" fill="#1c1c1c" stroke="#1c1c1c" stroke-width="0.15" textLength="10.95" lengthAdjust="spacingAndGlyphs">10</text>
<text x="134.95" y="365.60" font-size="6.4" text-anchor="start" fill="#1c1c1c" stroke="#1c1c1c" stroke-width="0.15" >5</text>
<text x="147.80" y="369.50" font-size="9.2" text-anchor="start" fill="#1c1c1c" stroke="#1c1c1c" stroke-width="0.15" textLength="10.95" lengthAdjust="spacingAndGlyphs">10</text>
<text x="159.25" y="365.60" font-size="6.4" text-anchor="start" fill="#1c1c1c" stroke="#1c1c1c" stroke-width="0.15" >6</text>
<text x="165.00" y="369.50" font-size="9.2" text-anchor="start" fill="#1c1c1c" stroke="#1c1c1c" stroke-width="0.15" textLength="10.95" lengthAdjust="spacingAndGlyphs">10</text>
<text x="176.45" y="365.60" font-size="6.4" text-anchor="start" fill="#1c1c1c" stroke="#1c1c1c" stroke-width="0.15" >7</text>
<text x="67.50" y="243.50" font-size="9.6" text-anchor="start" fill="#1c1c1c" stroke="#1c1c1c" stroke-width="0.15" textLength="19.62" lengthAdjust="spacingAndGlyphs">0.15</text>
<text x="179.70" y="243.30" font-size="9.6" text-anchor="end" fill="#1c1c1c" stroke="#1c1c1c" stroke-width="0.15" textLength="19.62" lengthAdjust="spacingAndGlyphs">33.3</text>
<text x="66.00" y="347.70" font-size="9.6" text-anchor="start" fill="#1c1c1c" stroke="#1c1c1c" stroke-width="0.15" textLength="19.62" lengthAdjust="spacingAndGlyphs">16.4</text>
<text x="178.40" y="347.80" font-size="9.6" text-anchor="end" fill="#1c1c1c" stroke="#1c1c1c" stroke-width="0.15" textLength="19.62" lengthAdjust="spacingAndGlyphs">50.1</text>
<path d="M226.20 234.50 H342.60 V351.10" fill="none" stroke="#999" stroke-width="1"/>
<path d="M224.40 331.56H226.20M246.98 351.10V353.70M224.40 329.52H226.20M248.66 351.10V353.70M224.40 327.48H226.20M250.34 351.10V353.70M224.40 325.44H226.20M252.02 351.10V353.70M224.40 321.48H226.20M255.36 351.10V353.70M224.40 319.56H226.20M257.02 351.10V353.70M224.40 317.64H226.20M258.68 351.10V353.70M224.40 315.72H226.20M260.34 351.10V353.70M223.90 305.07H226.20M270.43 351.10V353.40M223.90 342.33H226.20M236.87 351.10V353.40M223.90 299.96H226.20M275.36 351.10V353.40M223.90 347.44H226.20M231.94 351.10V353.40M223.90 296.34H226.20M278.86 351.10V353.40M228.44 351.10V353.40M223.90 293.53H226.20M281.57 351.10V353.40M223.90 291.23H226.20M283.79 351.10V353.40M223.90 289.29H226.20M285.66 351.10V353.40M223.90 287.61H226.20M287.29 351.10V353.40M223.90 286.13H226.20M288.72 351.10V353.40M223.90 277.24H226.20M297.71 351.10V353.40M223.90 272.82H226.20M302.21 351.10V353.40M223.90 269.69H226.20M305.41 351.10V353.40M223.90 267.26H226.20M307.89 351.10V353.40M223.90 265.27H226.20M309.92 351.10V353.40M223.90 263.59H226.20M311.63 351.10V353.40M223.90 262.13H226.20M313.12 351.10V353.40M223.90 260.85H226.20M314.43 351.10V353.40M223.90 252.81H226.20M322.88 351.10V353.40M223.90 248.77H226.20M327.15 351.10V353.40M223.90 245.91H226.20M330.17 351.10V353.40M223.90 243.69H226.20M332.52 351.10V353.40M223.90 241.88H226.20M334.43 351.10V353.40M223.90 240.35H226.20M336.05 351.10V353.40M223.90 239.02H226.20M337.45 351.10V353.40M223.90 237.85H226.20M338.69 351.10V353.40" stroke="#505050" stroke-width="1"/>
<path d="M222.80 313.80H226.20" stroke="#222" stroke-width="1.3"/><path d="M262.00 351.10V354.50" stroke="#222" stroke-width="1.3"/><path d="M222.80 333.60H226.20" stroke="#222" stroke-width="1.3"/><path d="M245.30 351.10V354.50" stroke="#222" stroke-width="1.3"/><path d="M222.80 284.80H226.20" stroke="#222" stroke-width="1.3"/><path d="M290.00 351.10V354.50" stroke="#222" stroke-width="1.3"/><path d="M222.80 259.70H226.20" stroke="#222" stroke-width="1.3"/><path d="M315.60 351.10V354.50" stroke="#222" stroke-width="1.3"/><path d="M222.80 236.80H226.20" stroke="#222" stroke-width="1.3"/><path d="M339.80 351.10V354.50" stroke="#222" stroke-width="1.3"/><path d="M222.50 323.40H226.20" stroke="#111" stroke-width="3.0"/><path d="M253.70 351.10V354.80" stroke="#111" stroke-width="3.0"/>
<path d="M226.20 234.00 V351.10 H343.10" fill="none" stroke="#555" stroke-width="1"/>
<g fill="none" stroke="#555" stroke-width="0.55" stroke-linejoin="round"><path d="M322.2 330.0 320.9 330.0 319.4 329.8 313.4 328.4 310.9 327.5 308.7 326.4 306.7 325.0 305.7 324.0 304.9 323.0 304.2 322.0 303.8 321.0 303.4 319.8 303.3 318.8 303.4 317.8 303.8 316.8 304.4 315.8 305.1 315.0 306.2 314.3 307.4 313.8 308.7 313.6 311.2 313.3 311.9 313.1 312.4 312.7 312.9 312.0 313.5 310.5 313.9 308.2 314.0 305.5 313.9 293.8 313.6 279.8 313.5 277.0 313.2 274.8 312.0 268.8 311.6 266.2 311.5 263.5 311.6 260.8 312.1 257.8 312.7 255.0 313.6 252.5 314.8 250.0 316.2 247.8 317.7 246.2 319.2 245.2 320.4 244.9 321.4 245.0 322.4 245.7 323.2 246.8 323.9 248.2 324.4 250.8 325.2 257.4 326.7 263.5 327.2 266.8 327.6 270.2 328.5 281.8 329.1 295.0 329.9 307.0 330.2 309.6 331.1 314.2 331.3 316.8 331.2 319.2 330.7 321.5 330.1 323.5 328.9 325.8 327.4 327.5 325.9 328.7 324.2 329.6 322.2 330.0Z"/><path d="M255.7 328.0 254.4 327.9 253.4 327.6 252.7 327.0 252.4 326.2 252.4 325.5 252.7 324.5 253.3 323.5 254.2 322.5 255.7 321.3 256.9 320.6 258.2 320.1 259.7 319.6 261.2 319.4 262.4 319.4 263.4 319.7 264.2 320.2 264.5 320.8 264.7 321.2 264.6 322.2 264.3 323.0 263.8 323.8 262.7 325.0 261.2 326.1 259.2 327.2 257.2 327.8 255.7 328.0Z"/><path d="M322.7 328.8 320.9 328.8 319.2 328.6 312.4 326.6 309.9 325.5 308.1 324.2 306.6 322.8 305.6 321.0 305.4 320.0 305.3 319.2 305.4 318.2 305.7 317.5 306.2 316.7 307.0 316.0 308.4 315.3 309.4 315.1 311.9 314.7 312.9 314.2 313.4 313.6 313.9 312.6 314.7 309.9 315.0 307.8 315.1 304.8 315.2 293.5 315.0 278.5 314.6 273.2 313.3 265.0 313.2 262.8 313.3 260.8 313.6 258.5 314.1 256.2 314.8 254.2 315.6 252.5 316.6 250.8 317.7 249.6 318.7 248.9 319.7 248.6 320.4 248.7 321.2 249.2 321.8 250.0 322.3 251.2 322.8 253.2 323.7 258.8 325.2 264.5 325.8 267.5 326.3 271.0 327.1 281.5 327.8 295.2 328.7 306.7 329.0 309.0 330.1 313.8 330.4 316.5 330.3 318.8 330.0 320.8 329.3 323.0 328.4 324.8 327.2 326.2 325.9 327.4 324.2 328.4 322.7 328.8Z"/><path d="M256.7 327.0 255.7 327.0 254.9 326.9 254.2 326.5 253.8 326.0 253.7 325.2 253.9 324.5 254.3 323.8 254.9 323.0 255.7 322.3 256.7 321.6 257.7 321.1 259.2 320.6 260.4 320.4 261.4 320.4 262.2 320.6 262.9 321.0 263.3 321.8 263.2 322.5 262.8 323.5 262.0 324.5 260.9 325.3 259.4 326.2 257.9 326.8 256.7 327.0Z"/><path d="M322.9 327.8 321.2 327.9 319.4 327.6 315.5 326.2 312.4 325.3 310.9 324.7 309.4 323.7 308.2 322.5 307.4 321.0 307.1 319.8 307.1 319.0 307.4 318.2 307.9 317.5 308.4 317.1 309.7 316.6 312.6 316.0 313.2 315.6 313.7 315.1 314.2 314.2 314.7 312.9 315.4 310.4 315.8 308.8 316.1 306.0 316.2 298.5 316.3 277.8 315.9 272.0 315.0 264.0 314.9 261.0 315.4 258.0 315.8 256.5 316.3 255.2 316.9 254.1 317.6 253.2 318.2 252.8 318.9 252.5 319.7 252.6 320.1 253.0 320.5 253.5 320.9 254.5 322.1 259.8 323.9 265.2 324.6 268.2 325.0 271.5 326.0 282.2 326.7 294.9 327.7 306.4 328.1 309.0 329.4 313.8 329.7 316.5 329.7 318.5 329.4 320.5 328.8 322.2 328.1 323.8 327.1 325.2 325.9 326.3 324.4 327.3 322.9 327.8Z"/><path d="M257.7 326.0 256.9 326.1 256.2 326.1 255.7 325.9 255.2 325.5 255.0 325.0 255.1 324.5 255.3 324.0 255.9 323.2 257.2 322.2 258.9 321.4 259.9 321.3 260.7 321.3 261.2 321.4 261.7 321.7 262.0 322.2 262.0 322.8 261.7 323.5 261.2 324.1 260.5 324.8 259.7 325.3 258.7 325.7 257.7 326.0Z"/><path d="M322.7 327.3 321.2 327.4 319.4 327.1 315.4 325.4 311.6 324.0 310.4 323.2 309.3 322.2 308.7 321.2 308.4 320.0 308.5 319.2 308.7 318.8 309.4 318.0 310.4 317.5 312.9 316.9 313.4 316.5 313.9 316.0 314.4 315.0 314.9 313.6 316.1 310.0 316.5 308.0 316.7 305.5 317.0 297.5 317.2 277.5 317.0 273.2 316.4 263.8 316.4 261.5 316.6 259.2 317.2 257.6 317.9 256.5 318.4 256.2 318.7 256.2 319.2 256.5 319.4 256.8 319.9 257.8 321.0 261.2 322.9 266.0 323.7 269.2 325.2 282.2 326.0 295.0 327.1 306.2 327.5 308.8 328.9 313.5 329.3 316.5 329.3 318.5 329.0 320.2 328.4 322.2 327.6 323.8 326.6 325.0 325.4 326.1 324.2 326.8 322.7 327.3Z"/><path d="M258.2 325.3 256.9 325.4 256.5 325.2 256.2 325.0 256.1 324.8 256.1 324.2 256.5 323.5 257.4 322.7 258.7 322.1 259.9 322.0 260.7 322.2 260.9 322.5 260.9 323.0 260.6 323.8 260.1 324.2 259.4 324.7 258.2 325.3Z"/><path d="M323.2 326.8 321.4 327.0 320.4 326.9 319.4 326.6 318.2 326.2 315.2 324.7 312.3 323.5 311.1 322.8 310.3 322.0 309.7 321.1 309.5 320.2 309.6 319.5 310.2 318.8 310.9 318.3 313.2 317.6 313.7 317.2 314.2 316.5 314.7 315.4 316.2 310.8 317.0 307.8 317.2 305.0 317.6 293.2 317.9 277.2 317.8 266.8 318.0 265.0 318.2 263.4 318.4 262.7 318.7 262.5 318.9 262.4 319.4 262.7 319.9 263.2 321.4 265.5 322.3 267.5 322.9 270.0 324.6 282.8 325.5 295.2 326.6 306.2 327.1 308.8 328.6 313.5 329.0 316.2 329.0 318.0 328.8 319.8 328.3 321.5 327.7 323.0 326.8 324.2 325.7 325.5 324.4 326.3 323.2 326.8Z"/><path d="M258.4 324.6 257.7 324.7 257.2 324.5 257.1 324.2 257.2 323.8 257.7 323.2 258.4 322.9 259.2 322.7 259.7 322.8 259.9 323.0 259.9 323.2 259.7 323.8 259.1 324.2 258.4 324.6Z"/><path d="M322.9 326.5 321.9 326.6 320.7 326.6 319.4 326.3 318.2 325.7 312.2 322.5 311.2 321.5 310.9 321.0 310.8 320.5 310.9 320.0 311.2 319.5 313.4 318.3 313.9 317.8 314.4 317.0 316.9 309.6 317.4 307.5 317.7 305.2 318.0 297.5 318.4 284.5 318.8 277.0 318.9 270.8 319.1 269.2 319.4 268.2 319.7 267.7 320.2 267.5 320.4 267.6 320.9 268.1 321.4 269.0 321.9 270.5 322.2 271.8 323.9 283.0 324.9 295.5 326.2 306.2 326.7 308.7 328.4 313.8 328.6 315.2 328.8 316.8 328.8 318.2 328.5 320.0 328.1 321.5 327.3 323.0 326.5 324.2 325.4 325.3 324.2 326.1 322.9 326.5Z"/><path d="M322.7 326.3 321.7 326.4 320.4 326.2 319.4 325.9 318.2 325.4 316.8 324.5 313.3 322.0 312.7 321.2 312.5 320.8 312.7 320.2 314.2 318.4 314.7 317.4 316.0 313.0 317.5 309.0 317.9 307.2 318.1 304.5 319.2 282.5 319.9 276.5 320.3 274.8 320.4 274.4 320.7 274.2 320.9 274.3 321.2 274.8 321.7 276.3 322.9 281.6 323.4 285.2 324.5 296.2 325.8 306.2 326.3 308.5 328.1 313.5 328.4 315.0 328.6 316.8 328.5 318.5 328.3 320.0 327.8 321.5 327.1 323.0 326.2 324.2 325.2 325.1 323.9 325.9 322.7 326.3Z"/><path d="M322.2 326.0 321.2 326.0 319.9 325.8 318.9 325.4 317.7 324.7 316.5 323.8 315.1 322.5 314.4 321.5 314.2 320.8 314.3 319.8 316.1 313.8 317.8 309.0 318.3 307.0 318.6 305.0 319.9 285.5 320.4 282.6 320.7 282.0 320.9 281.7 321.2 281.7 321.7 282.3 321.9 282.9 322.4 285.1 323.8 295.8 325.4 306.5 325.9 308.5 327.8 313.5 328.2 315.2 328.4 317.0 328.3 318.8 327.9 320.5 327.3 322.0 326.6 323.2 325.7 324.3 324.7 325.1 323.4 325.8 322.2 326.0Z"/><path d="M321.9 325.8 320.7 325.7 319.7 325.4 318.7 324.9 317.4 324.1 316.3 323.0 315.5 322.0 315.1 321.0 315.0 320.2 315.1 318.8 316.1 314.5 316.8 312.2 318.3 308.8 318.8 307.0 320.2 294.4 320.7 291.7 320.9 290.8 321.2 290.4 321.4 290.3 321.7 290.6 321.9 291.2 322.7 294.1 325.0 306.8 325.5 308.5 327.0 312.0 327.6 313.5 328.0 315.2 328.1 317.0 328.1 318.8 327.7 320.2 327.2 321.8 326.4 323.1 325.4 324.2 324.4 325.0 323.2 325.5 321.9 325.8Z"/><path d="M322.7 325.3 321.4 325.4 320.2 325.2 318.9 324.6 318.0 324.0 317.0 323.0 316.2 322.0 315.8 321.0 315.6 319.8 315.8 317.2 316.4 314.5 317.2 312.2 319.3 307.5 319.6 306.0 320.2 302.3 320.7 299.9 321.2 298.7 321.4 298.4 321.7 298.4 322.2 298.9 322.9 300.9 324.1 306.0 324.6 307.5 326.6 311.8 327.2 313.2 327.7 315.0 327.9 316.8 327.8 318.2 327.6 319.8 327.1 321.2 326.6 322.2 325.9 323.2 324.9 324.2 323.9 324.9 322.7 325.3Z"/><path d="M322.9 324.8 321.9 324.9 320.7 324.8 319.4 324.4 318.4 323.7 317.4 322.8 316.7 321.8 316.3 320.5 316.1 319.2 316.1 317.8 316.4 316.0 316.8 314.2 317.4 312.8 318.2 311.0 321.2 305.6 321.7 305.1 321.9 305.1 322.2 305.2 322.7 305.8 326.3 312.0 327.1 314.2 327.5 316.8 327.5 318.0 327.3 319.5 326.9 320.8 326.4 322.0 325.7 322.9 324.9 323.8 323.9 324.4 322.9 324.8Z"/><path d="M322.4 324.3 321.4 324.3 320.4 324.1 319.4 323.6 318.4 322.8 317.6 321.8 317.1 320.8 316.8 319.8 316.7 318.5 316.8 317.0 317.1 315.2 317.5 313.8 318.2 312.3 319.2 310.7 320.2 309.5 321.2 308.7 321.9 308.5 322.7 308.7 323.7 309.5 324.7 310.6 325.4 311.7 326.1 313.0 326.6 314.2 326.9 315.5 327.1 317.0 327.0 318.2 326.8 319.5 326.4 320.8 325.9 321.8 325.2 322.7 324.4 323.4 323.4 324.0 322.4 324.3Z"/><path d="M322.7 323.5 321.7 323.6 320.7 323.4 319.7 323.0 318.9 322.4 318.2 321.5 317.7 320.5 317.4 319.5 317.3 318.2 317.3 317.0 317.5 315.5 318.0 314.0 318.6 312.8 319.4 311.5 320.2 310.8 321.2 310.2 321.9 310.0 322.7 310.1 323.4 310.5 324.2 311.2 324.9 312.1 325.6 313.2 326.1 314.2 326.4 315.5 326.6 316.8 326.6 318.0 326.4 319.2 326.0 320.2 325.6 321.2 324.9 322.1 324.3 322.8 323.4 323.3 322.7 323.5Z"/><path d="M322.9 322.8 322.2 323.0 321.2 322.9 320.4 322.7 319.7 322.2 319.0 321.5 318.4 320.7 318.1 319.8 317.8 318.5 317.8 317.2 317.9 316.0 318.3 314.8 318.7 313.7 319.4 312.5 320.2 311.8 320.9 311.3 321.7 311.0 322.4 311.1 323.2 311.4 323.9 311.9 324.4 312.4 325.0 313.2 325.5 314.2 325.9 315.2 326.1 316.5 326.0 318.5 325.8 319.5 325.4 320.5 324.9 321.2 324.3 322.0 323.7 322.4 322.9 322.8Z"/><path d="M322.7 322.3 321.9 322.4 321.2 322.3 320.4 322.0 319.8 321.5 319.2 320.9 318.7 320.0 318.3 318.2 318.3 317.2 318.4 316.0 318.7 315.0 319.1 314.0 319.6 313.2 320.2 312.6 320.9 312.1 321.7 311.9 322.4 311.9 322.9 312.1 323.7 312.5 324.2 313.0 325.1 314.5 325.4 315.5 325.6 316.5 325.7 317.5 325.6 318.5 325.3 319.5 325.0 320.2 324.5 321.0 323.9 321.6 323.4 321.9 322.7 322.3Z"/><path d="M322.2 321.8 321.4 321.7 320.9 321.6 320.3 321.2 319.8 320.8 319.0 319.5 318.8 318.8 318.7 317.8 318.9 316.0 319.2 315.0 319.6 314.2 320.1 313.5 320.7 313.0 321.2 312.7 321.9 312.6 322.7 312.7 323.2 312.9 324.2 313.9 324.7 314.8 325.0 315.5 325.2 317.2 325.1 318.8 324.4 320.2 323.4 321.3 322.9 321.6 322.2 321.8Z"/><path d="M322.7 321.1 322.2 321.2 321.4 321.1 320.4 320.6 319.9 320.1 319.6 319.5 319.2 318.0 319.2 316.5 319.7 315.0 320.2 314.2 320.7 313.8 321.2 313.4 321.7 313.3 322.7 313.4 323.2 313.7 323.7 314.1 324.4 315.2 324.7 316.5 324.8 318.0 324.4 319.2 323.7 320.4 322.7 321.1Z"/><path d="M322.2 320.6 321.7 320.6 321.2 320.4 320.4 319.9 319.8 318.8 319.6 317.5 319.8 316.2 320.3 315.0 321.1 314.2 321.9 314.0 322.4 314.0 322.9 314.3 323.7 315.0 324.1 316.0 324.3 317.2 324.2 318.5 323.7 319.5 323.0 320.2 322.2 320.6Z"/><path d="M322.4 319.8 321.7 319.9 320.9 319.5 320.4 318.8 320.1 317.8 320.1 316.8 320.5 315.8 321.2 314.9 321.9 314.7 322.7 314.9 323.2 315.3 323.6 316.0 323.9 317.0 323.8 318.0 323.6 318.8 323.0 319.5 322.4 319.8Z"/><path d="M322.4 319.0 321.9 319.1 321.4 319.0 321.0 318.5 320.7 317.8 320.7 317.0 320.9 316.2 321.4 315.7 321.9 315.5 322.4 315.6 322.9 316.0 323.3 317.0 323.3 317.8 323.1 318.2 322.8 318.8 322.4 319.0Z"/></g>
<ellipse cx="322" cy="322" rx="1.1" ry="2.0" fill="#fff" fill-opacity="0.8"/>
<path d="M226.20 301.00 H342.60 M286.80 234.50 V351.10" stroke="#1e1e1e" stroke-width="1.1"/>
<text x="201.25" y="245.10" font-size="9.2" text-anchor="start" fill="#1c1c1c" stroke="#1c1c1c" stroke-width="0.15" textLength="10.95" lengthAdjust="spacingAndGlyphs">10</text>
<text x="212.70" y="241.20" font-size="6.4" text-anchor="start" fill="#1c1c1c" stroke="#1c1c1c" stroke-width="0.15" >7</text>
<text x="201.25" y="267.00" font-size="9.2" text-anchor="start" fill="#1c1c1c" stroke="#1c1c1c" stroke-width="0.15" textLength="10.95" lengthAdjust="spacingAndGlyphs">10</text>
<text x="212.70" y="263.10" font-size="6.4" text-anchor="start" fill="#1c1c1c" stroke="#1c1c1c" stroke-width="0.15" >6</text>
<text x="201.25" y="291.40" font-size="9.2" text-anchor="start" fill="#1c1c1c" stroke="#1c1c1c" stroke-width="0.15" textLength="10.95" lengthAdjust="spacingAndGlyphs">10</text>
<text x="212.70" y="287.50" font-size="6.4" text-anchor="start" fill="#1c1c1c" stroke="#1c1c1c" stroke-width="0.15" >5</text>
<text x="201.25" y="319.10" font-size="9.2" text-anchor="start" fill="#1c1c1c" stroke="#1c1c1c" stroke-width="0.15" textLength="10.95" lengthAdjust="spacingAndGlyphs">10</text>
<text x="212.70" y="315.20" font-size="6.4" text-anchor="start" fill="#1c1c1c" stroke="#1c1c1c" stroke-width="0.15" >4</text>
<text x="212.70" y="329.20" font-size="9.2" text-anchor="end" fill="#1c1c1c" stroke="#1c1c1c" stroke-width="0.15" textLength="5.47" lengthAdjust="spacingAndGlyphs">0</text>
<text x="200.45" y="340.40" font-size="9.2" text-anchor="end" fill="#1c1c1c" stroke="#1c1c1c" stroke-width="0.15" >−</text>
<text x="200.75" y="340.40" font-size="9.2" text-anchor="start" fill="#1c1c1c" stroke="#1c1c1c" stroke-width="0.15" textLength="10.95" lengthAdjust="spacingAndGlyphs">10</text>
<text x="212.20" y="336.50" font-size="6.4" text-anchor="start" fill="#1c1c1c" stroke="#1c1c1c" stroke-width="0.15" >4</text>
<text x="253.00" y="370.00" font-size="9.2" text-anchor="start" fill="#1c1c1c" stroke="#1c1c1c" stroke-width="0.15" textLength="5.47" lengthAdjust="spacingAndGlyphs">0</text>
<text x="287.00" y="370.00" font-size="9.2" text-anchor="start" fill="#1c1c1c" stroke="#1c1c1c" stroke-width="0.15" textLength="10.95" lengthAdjust="spacingAndGlyphs">10</text>
<text x="298.45" y="366.10" font-size="6.4" text-anchor="start" fill="#1c1c1c" stroke="#1c1c1c" stroke-width="0.15" >5</text>
<text x="311.00" y="370.00" font-size="9.2" text-anchor="start" fill="#1c1c1c" stroke="#1c1c1c" stroke-width="0.15" textLength="10.95" lengthAdjust="spacingAndGlyphs">10</text>
<text x="322.45" y="366.10" font-size="6.4" text-anchor="start" fill="#1c1c1c" stroke="#1c1c1c" stroke-width="0.15" >6</text>
<text x="330.00" y="370.00" font-size="9.2" text-anchor="start" fill="#1c1c1c" stroke="#1c1c1c" stroke-width="0.15" textLength="10.95" lengthAdjust="spacingAndGlyphs">10</text>
<text x="341.45" y="366.10" font-size="6.4" text-anchor="start" fill="#1c1c1c" stroke="#1c1c1c" stroke-width="0.15" >7</text>
<text x="230.40" y="243.30" font-size="9.6" text-anchor="start" fill="#1c1c1c" stroke="#1c1c1c" stroke-width="0.15" textLength="19.62" lengthAdjust="spacingAndGlyphs">0.22</text>
<text x="342.40" y="243.30" font-size="9.6" text-anchor="end" fill="#1c1c1c" stroke="#1c1c1c" stroke-width="0.15" textLength="19.62" lengthAdjust="spacingAndGlyphs">30.7</text>
<text x="228.90" y="347.70" font-size="9.6" text-anchor="start" fill="#1c1c1c" stroke="#1c1c1c" stroke-width="0.15" textLength="19.62" lengthAdjust="spacingAndGlyphs">4.13</text>
<text x="340.40" y="348.50" font-size="9.6" text-anchor="end" fill="#1c1c1c" stroke="#1c1c1c" stroke-width="0.15" textLength="19.62" lengthAdjust="spacingAndGlyphs">64.9</text>
<path d="M389.50 233.50 H507.70 V351.00" fill="none" stroke="#999" stroke-width="1"/>
<path d="M387.70 341.80H389.50M408.46 351.00V353.60M387.70 339.60H389.50M410.12 351.00V353.60M387.70 337.40H389.50M411.78 351.00V353.60M387.70 335.20H389.50M413.44 351.00V353.60M387.70 330.78H389.50M416.76 351.00V353.60M387.70 328.56H389.50M418.42 351.00V353.60M387.70 326.34H389.50M420.08 351.00V353.60M387.70 324.12H389.50M421.74 351.00V353.60M387.20 312.96H389.50M431.65 351.00V353.30M398.55 351.00V353.30M387.20 307.73H389.50M436.47 351.00V353.30M393.73 351.00V353.30M387.20 304.02H389.50M439.90 351.00V353.30M390.30 351.00V353.30M387.20 301.14H389.50M442.55 351.00V353.30M387.20 298.79H389.50M444.72 351.00V353.30M387.20 296.80H389.50M446.56 351.00V353.30M387.20 295.08H389.50M448.14 351.00V353.30M387.20 293.56H389.50M449.55 351.00V353.30M387.20 283.56H389.50M459.08 351.00V353.30M387.20 278.51H389.50M463.92 351.00V353.30M387.20 274.92H389.50M467.36 351.00V353.30M387.20 272.14H389.50M470.02 351.00V353.30M387.20 269.87H389.50M472.20 351.00V353.30M387.20 267.95H389.50M474.04 351.00V353.30M387.20 266.28H389.50M475.63 351.00V353.30M387.20 264.81H389.50M477.04 351.00V353.30M387.20 255.34H389.50M485.92 351.00V353.30M387.20 250.57H389.50M490.37 351.00V353.30M387.20 247.18H389.50M493.53 351.00V353.30M387.20 244.56H389.50M495.98 351.00V353.30M387.20 242.41H389.50M497.99 351.00V353.30M387.20 240.60H389.50M499.68 351.00V353.30M387.20 239.03H389.50M501.15 351.00V353.30M387.20 237.64H389.50M502.44 351.00V353.30" stroke="#505050" stroke-width="1"/>
<path d="M386.10 321.90H389.50" stroke="#222" stroke-width="1.3"/><path d="M423.40 351.00V354.40" stroke="#222" stroke-width="1.3"/><path d="M386.10 344.00H389.50" stroke="#222" stroke-width="1.3"/><path d="M406.80 351.00V354.40" stroke="#222" stroke-width="1.3"/><path d="M386.10 292.20H389.50" stroke="#222" stroke-width="1.3"/><path d="M450.80 351.00V354.40" stroke="#222" stroke-width="1.3"/><path d="M386.10 263.50H389.50" stroke="#222" stroke-width="1.3"/><path d="M478.30 351.00V354.40" stroke="#222" stroke-width="1.3"/><path d="M386.10 236.40H389.50" stroke="#222" stroke-width="1.3"/><path d="M503.60 351.00V354.40" stroke="#222" stroke-width="1.3"/><path d="M385.80 333.00H389.50" stroke="#111" stroke-width="3.0"/><path d="M415.10 351.00V354.70" stroke="#111" stroke-width="3.0"/>
<path d="M389.50 233.00 V351.00 H508.20" fill="none" stroke="#555" stroke-width="1"/>
<g fill="none" stroke="#404040" stroke-width="0.6" stroke-linejoin="round"><path d="M483.2 330.8 481.5 330.9 480.5 330.8 479.5 330.4 478.2 329.8 475.5 328.2 471.2 326.6 468.8 325.2 466.6 323.5 465.0 321.5 464.4 320.5 463.8 319.2 463.6 318.2 463.4 317.2 463.5 316.0 463.9 315.0 464.5 314.0 465.2 313.4 466.5 312.8 468.0 312.5 469.5 312.5 472.0 312.9 472.8 312.8 473.2 312.5 473.5 312.0 473.7 311.2 473.8 310.2 473.7 308.0 473.2 303.2 472.8 299.5 472.1 296.5 471.0 293.1 468.4 287.5 467.2 284.2 465.9 280.2 465.1 277.0 464.6 273.5 464.4 270.2 464.5 267.2 464.9 264.5 465.6 262.2 466.5 260.6 467.5 259.5 469.8 257.8 470.7 256.5 473.1 250.8 473.8 249.5 474.6 248.2 475.8 247.0 476.8 246.3 478.0 245.7 479.2 245.4 480.2 245.5 481.2 245.8 482.2 246.3 483.2 247.1 484.1 248.0 485.0 249.2 485.6 250.5 486.3 252.2 487.1 255.2 487.6 258.5 488.4 272.2 488.7 282.0 488.4 293.0 488.5 298.2 489.1 308.8 490.2 316.2 490.3 318.2 490.2 320.0 489.9 322.0 489.4 324.0 488.7 325.8 487.8 327.2 486.9 328.5 485.8 329.5 484.5 330.3 483.2 330.8Z"/><path d="M416.5 330.5 416.0 330.6 415.5 330.6 415.0 330.2 414.7 329.8 414.4 329.0 414.3 328.0 414.6 326.0 415.3 324.0 416.4 322.2 417.0 321.6 417.8 321.1 418.2 321.0 418.8 321.0 419.2 321.2 419.5 321.5 419.9 322.5 420.1 323.8 419.8 325.5 419.4 327.0 418.4 328.8 417.5 329.9 416.5 330.5Z"/><path d="M483.2 329.5 481.8 329.7 480.0 329.4 478.5 328.6 475.5 326.8 471.8 325.4 469.8 324.4 467.9 323.0 466.4 321.2 465.5 319.5 465.1 317.8 465.2 316.8 465.6 315.8 466.2 315.0 467.2 314.4 468.2 314.1 469.2 314.0 470.5 314.1 472.8 314.5 473.2 314.5 473.8 314.2 474.2 313.7 474.5 313.0 474.8 311.8 474.9 310.2 474.8 307.1 474.2 301.4 473.8 297.5 473.2 295.0 472.2 291.9 469.6 286.2 468.4 283.2 467.4 280.2 466.6 277.0 466.1 274.2 466.0 271.5 466.0 269.0 466.3 267.0 466.9 265.0 467.8 263.5 468.7 262.5 470.8 261.0 471.8 259.6 472.3 258.2 473.9 253.5 474.5 252.0 475.3 250.8 476.2 249.6 477.2 248.8 478.2 248.2 479.2 248.0 480.5 248.2 481.5 248.6 482.5 249.4 483.5 250.5 484.2 251.8 484.9 253.2 485.4 255.0 485.8 257.0 486.1 260.0 486.4 267.8 487.1 280.8 487.2 293.5 487.3 298.5 488.0 308.5 488.3 310.2 489.2 314.8 489.4 317.2 489.4 319.5 489.2 321.5 488.6 323.5 487.9 325.2 487.0 326.8 485.8 328.1 484.5 329.0 483.2 329.5Z"/><path d="M416.8 329.6 416.2 329.7 415.8 329.6 415.5 329.5 415.1 329.0 414.9 327.8 415.1 326.0 415.6 324.5 416.5 323.0 417.5 322.1 418.0 321.9 418.5 321.9 419.0 322.2 419.4 323.0 419.5 324.2 419.4 325.5 418.9 327.0 418.3 328.0 417.5 329.0 416.8 329.6Z"/><path d="M483.0 328.6 481.5 328.7 480.0 328.3 478.5 327.5 475.5 325.5 474.5 325.0 471.8 324.2 470.2 323.4 468.8 322.2 467.8 321.0 467.0 319.5 466.7 318.2 466.9 317.2 467.2 316.5 467.8 316.0 468.5 315.6 469.2 315.4 470.2 315.4 473.5 315.9 474.0 315.8 474.5 315.5 475.0 314.6 475.3 313.5 475.6 311.8 475.8 309.8 475.7 307.0 475.2 301.0 474.8 297.0 474.4 294.2 473.9 292.2 473.2 290.4 469.9 283.2 469.0 281.0 468.3 278.8 467.8 276.2 467.5 273.8 467.4 271.2 467.7 269.2 468.2 267.5 468.9 266.2 469.8 265.4 471.8 263.9 472.2 263.3 472.8 262.6 473.4 260.8 474.8 255.5 475.4 254.0 476.0 252.9 476.8 251.9 477.5 251.2 478.2 250.7 479.2 250.5 480.2 250.6 481.0 250.9 481.8 251.4 482.5 252.3 483.1 253.2 483.7 254.5 484.1 256.0 484.4 257.8 484.7 260.5 484.8 269.2 485.9 282.2 486.1 293.5 486.3 298.5 487.1 308.5 487.5 310.5 488.4 314.5 488.8 317.5 488.7 319.8 488.5 321.5 488.1 323.0 487.3 324.8 486.4 326.2 485.4 327.2 484.2 328.1 483.0 328.6Z"/><path d="M416.8 328.8 416.2 328.9 416.0 328.8 415.6 328.2 415.4 327.2 415.6 325.8 416.1 324.5 416.8 323.5 417.5 322.8 418.2 322.7 418.8 323.2 419.0 323.8 419.0 324.8 418.8 325.8 418.5 326.8 418.0 327.7 417.5 328.3 416.8 328.8Z"/><path d="M482.8 328.0 481.2 328.0 479.8 327.6 478.5 326.9 476.2 325.1 475.2 324.4 472.2 323.4 470.8 322.7 469.8 322.0 468.8 320.9 468.1 319.8 467.9 318.8 467.9 318.0 468.1 317.5 468.5 317.0 469.2 316.6 470.0 316.4 470.8 316.4 473.8 316.9 474.2 316.8 474.8 316.5 475.2 315.6 475.8 313.9 476.2 311.5 476.3 309.2 476.2 306.3 475.8 299.8 475.4 296.2 475.0 293.2 474.5 291.2 473.8 289.0 470.6 282.2 469.3 278.8 468.9 276.8 468.6 274.8 468.5 272.8 468.6 271.0 469.0 269.5 469.8 268.1 470.5 267.4 472.5 266.0 473.1 265.2 473.6 264.5 474.3 262.5 475.5 257.0 476.0 255.5 476.5 254.4 477.1 253.5 477.8 252.9 478.5 252.4 479.2 252.2 480.0 252.2 480.8 252.6 481.3 253.0 482.0 253.8 482.9 255.5 483.5 258.0 483.7 260.8 483.6 266.2 483.7 269.0 485.0 282.0 485.4 294.5 485.7 299.0 486.6 308.5 487.0 310.5 488.0 314.8 488.4 317.5 488.4 319.5 488.1 321.2 487.6 323.0 486.9 324.5 486.0 325.9 485.0 326.9 484.0 327.6 482.8 328.0Z"/><path d="M416.8 328.3 416.2 328.2 415.8 327.8 415.7 326.8 415.9 325.8 416.2 324.8 416.8 324.0 417.5 323.4 418.0 323.3 418.3 323.5 418.6 324.0 418.7 324.8 418.5 325.8 418.2 326.8 417.8 327.5 417.2 328.0 416.8 328.3Z"/><path d="M483.0 327.5 481.5 327.6 480.5 327.4 479.8 327.1 478.4 326.2 476.0 324.2 475.2 323.6 474.2 323.2 472.2 322.7 471.2 322.2 470.3 321.5 469.6 320.8 469.0 319.8 468.9 319.0 468.9 318.5 469.1 318.0 469.5 317.6 470.0 317.4 471.2 317.3 473.2 317.7 474.0 317.8 474.5 317.6 475.0 317.1 475.6 315.8 476.2 313.2 476.6 311.0 476.8 309.0 476.7 305.8 476.2 299.1 475.8 295.0 475.4 292.2 474.9 290.2 474.2 288.1 471.2 281.6 470.2 278.8 469.7 277.0 469.5 275.2 469.4 273.8 469.5 272.2 469.9 270.8 470.5 269.6 471.2 268.9 473.2 267.6 473.8 267.1 474.2 266.2 475.0 264.1 475.9 258.8 476.6 256.5 477.2 255.2 477.8 254.5 478.5 253.9 479.2 253.6 480.0 253.7 480.5 253.9 481.0 254.3 481.5 254.9 482.3 256.5 482.7 258.5 482.9 261.0 482.7 266.5 482.8 269.2 484.3 282.2 485.2 299.0 486.2 308.5 486.5 310.1 487.7 314.5 488.1 317.5 488.1 319.2 487.9 321.0 487.4 322.8 486.9 324.0 486.1 325.2 485.2 326.2 484.0 327.1 483.0 327.5Z"/><path d="M416.8 327.8 416.5 327.8 416.2 327.6 416.1 327.2 416.0 326.5 416.1 325.8 416.8 324.5 417.2 323.9 417.8 323.8 418.0 323.8 418.3 324.2 418.4 325.0 418.3 325.8 418.0 326.6 417.6 327.2 417.2 327.6 416.8 327.8Z"/><path d="M482.8 327.3 482.0 327.3 481.0 327.3 480.0 326.9 479.2 326.5 478.0 325.6 475.8 323.3 475.0 322.8 474.2 322.4 472.2 321.9 471.0 321.2 470.1 320.2 469.8 319.2 470.1 318.5 470.8 318.1 471.8 318.1 474.0 318.6 474.5 318.5 475.0 318.0 475.8 316.3 476.5 313.3 476.9 310.8 477.1 308.5 476.6 298.5 476.2 294.5 475.8 291.3 475.2 289.2 474.5 286.9 471.8 280.8 470.9 278.5 470.3 275.8 470.2 274.5 470.3 273.2 470.7 272.0 471.2 271.0 471.8 270.5 473.8 269.2 474.4 268.5 475.0 267.6 475.4 266.5 475.8 265.0 476.5 259.8 477.0 257.6 477.5 256.5 478.0 255.7 478.5 255.2 479.2 255.0 479.8 255.0 480.2 255.2 481.0 255.9 481.6 257.2 482.0 258.8 482.1 261.0 481.9 266.5 482.0 269.2 482.3 272.2 483.3 278.8 483.7 282.2 484.9 299.0 485.9 308.5 486.2 310.2 487.5 314.5 487.9 317.5 487.9 319.2 487.6 321.0 487.1 322.8 486.6 324.0 485.8 325.2 485.0 326.1 484.0 326.8 482.8 327.3Z"/><path d="M417.0 327.4 416.8 327.4 416.5 327.3 416.3 327.0 416.3 326.0 416.5 325.2 417.0 324.5 417.5 324.2 417.8 324.2 418.0 324.4 418.1 324.8 418.1 325.8 417.6 326.8 417.0 327.4Z"/><path d="M482.8 327.0 482.0 327.1 481.2 327.1 480.5 326.9 479.5 326.4 478.6 325.8 477.7 325.0 474.8 321.8 474.0 321.4 472.8 321.2 472.0 320.9 471.2 320.3 471.0 319.8 471.2 319.2 471.8 319.0 472.5 319.2 473.8 319.6 474.2 319.6 474.8 319.2 475.2 318.5 476.0 316.3 477.0 312.0 477.3 310.0 477.3 308.0 476.9 298.2 476.5 293.8 476.1 290.8 475.6 288.5 474.9 286.2 472.2 280.1 471.6 278.2 471.1 276.0 471.2 274.2 471.4 273.2 471.9 272.5 472.5 271.9 473.8 271.2 474.5 270.6 475.2 269.8 475.7 268.8 476.3 267.2 476.6 265.8 477.1 260.8 477.4 258.8 477.8 257.9 478.2 257.0 478.8 256.5 479.2 256.3 480.0 256.5 480.5 256.9 481.0 257.8 481.3 259.2 481.4 261.5 481.1 267.0 481.2 269.8 481.6 272.5 482.8 279.0 483.3 282.2 484.4 297.2 485.5 307.8 485.9 310.0 487.4 314.8 487.7 317.5 487.7 319.2 487.5 320.8 487.1 322.2 486.5 323.8 485.7 325.0 484.8 326.0 483.8 326.7 482.8 327.0Z"/><path d="M417.2 326.8 417.0 327.0 416.8 327.0 416.6 326.8 416.5 326.2 416.8 325.2 417.2 324.8 417.5 324.6 417.8 324.8 417.9 325.5 417.7 326.2 417.2 326.8Z"/><path d="M483.0 326.8 482.0 326.9 481.0 326.8 480.0 326.5 479.0 325.9 477.8 324.8 476.7 323.5 475.6 322.0 475.0 320.8 475.1 320.0 476.0 317.0 477.0 312.6 477.5 309.8 477.5 306.8 477.2 298.2 476.7 292.5 476.0 288.5 475.0 285.1 472.6 278.8 472.2 277.5 472.1 276.2 472.2 275.0 472.5 274.2 473.0 273.6 474.5 272.5 475.2 271.8 476.2 270.5 476.8 269.0 477.3 267.5 477.6 266.0 477.8 261.8 478.0 259.8 478.5 258.5 478.8 258.1 479.2 257.8 479.8 257.9 480.1 258.2 480.4 259.0 480.6 259.8 480.7 261.8 480.1 266.5 480.2 268.8 480.7 271.5 482.2 278.4 482.8 282.0 483.2 285.9 484.1 297.5 485.3 307.8 485.8 310.0 487.2 314.5 487.5 316.0 487.6 317.5 487.6 319.2 487.4 320.8 487.1 322.0 486.5 323.5 485.8 324.7 485.0 325.6 484.0 326.3 483.0 326.8Z"/><path d="M417.0 326.5 416.8 326.2 416.8 325.8 417.2 325.1 417.5 325.1 417.6 325.5 417.5 326.0 417.2 326.4 417.0 326.5Z"/><path d="M479.2 261.7 479.2 261.0 479.2 261.7Z"/><path d="M482.0 326.8 481.0 326.7 480.0 326.3 479.1 325.8 478.2 325.0 477.1 323.8 476.2 322.5 475.7 321.5 475.5 320.5 475.6 319.2 477.3 312.0 477.7 309.5 477.7 306.8 477.5 299.5 477.0 293.2 476.5 289.2 475.6 285.5 473.5 279.0 473.3 277.8 473.2 276.8 473.3 276.0 473.7 275.2 475.8 273.2 477.8 270.2 478.2 269.6 478.5 269.5 478.8 269.5 479.2 270.2 480.0 272.1 481.2 276.1 482.2 280.2 482.8 284.2 483.9 297.5 485.1 307.5 485.5 309.8 487.1 314.8 487.5 317.2 487.5 319.0 487.3 320.8 486.8 322.5 486.1 324.0 485.2 325.1 484.2 326.0 483.2 326.5 482.0 326.8Z"/><path d="M482.2 326.5 481.2 326.5 480.2 326.2 479.2 325.6 478.5 325.0 477.6 324.0 476.7 322.8 476.1 321.5 475.9 320.5 475.9 319.5 476.1 318.0 477.8 310.2 478.0 308.5 478.0 306.5 477.8 298.8 477.3 291.5 476.8 287.8 475.4 281.2 475.2 279.0 475.5 277.5 476.1 276.2 477.2 274.8 477.8 274.3 478.2 274.1 478.8 274.2 479.0 274.3 479.5 274.8 480.0 275.7 481.0 278.2 481.8 281.1 482.4 285.2 483.6 297.8 484.8 307.5 485.3 309.8 486.9 314.5 487.3 317.2 487.4 319.0 487.2 320.5 486.8 322.0 486.2 323.5 485.3 324.8 484.5 325.6 483.5 326.2 482.2 326.5Z"/><path d="M482.5 326.3 481.5 326.3 480.5 326.0 479.5 325.5 478.6 324.8 477.7 323.8 476.9 322.5 476.4 321.2 476.2 320.2 476.2 319.2 476.4 317.8 476.9 315.2 478.0 310.5 478.3 307.5 478.2 299.5 477.9 292.5 477.6 288.8 476.8 283.2 476.8 281.2 477.0 280.0 477.3 279.0 477.8 278.2 478.5 277.8 479.0 277.9 479.2 278.0 480.0 279.0 480.8 280.7 481.2 282.5 482.0 287.1 483.2 298.0 484.6 307.8 485.0 309.8 486.6 314.2 487.2 317.0 487.2 318.8 487.1 320.2 486.7 321.8 486.1 323.2 485.3 324.5 484.5 325.3 483.5 325.9 482.5 326.3Z"/><path d="M482.5 326.0 481.5 326.0 480.5 325.8 479.5 325.2 478.6 324.5 477.8 323.5 477.1 322.2 476.6 321.0 476.5 320.0 476.5 318.5 476.8 316.5 478.3 310.5 478.6 308.2 478.7 299.0 478.3 284.8 478.5 282.8 478.8 282.3 479.0 282.1 479.2 282.1 479.5 282.2 480.0 282.9 480.8 285.2 481.8 290.4 482.8 298.5 484.2 307.8 484.8 309.8 486.5 314.2 486.8 315.8 487.0 317.2 487.1 318.8 486.9 320.2 486.5 321.8 486.0 323.0 485.2 324.2 484.5 325.0 483.5 325.7 482.5 326.0Z"/><path d="M482.5 325.8 481.5 325.8 480.5 325.5 479.6 325.0 478.8 324.3 477.9 323.2 477.3 322.2 476.9 321.0 476.7 320.0 476.8 318.2 477.1 316.0 478.5 310.5 478.9 308.5 479.3 293.5 479.6 291.2 479.8 290.5 480.0 290.1 480.2 290.1 480.5 290.4 481.2 292.8 483.9 308.0 484.5 309.8 486.3 314.2 486.7 315.8 486.9 317.5 486.9 319.0 486.7 320.5 486.4 321.8 485.8 323.0 485.2 324.0 484.2 325.0 483.5 325.4 482.5 325.8Z"/><path d="M482.0 325.5 481.0 325.4 480.2 325.1 479.4 324.5 478.6 323.8 477.9 322.8 477.4 321.8 477.2 320.8 477.0 319.5 477.1 317.8 477.4 315.5 479.4 308.8 480.0 301.8 480.3 300.2 480.5 299.7 480.8 299.4 481.0 299.5 481.2 299.8 482.0 301.7 482.5 303.5 483.4 308.0 484.0 309.5 485.4 312.5 486.0 314.2 486.5 316.0 486.7 317.8 486.7 319.2 486.4 320.8 486.0 322.0 485.4 323.2 484.6 324.2 483.8 325.0 483.0 325.3 482.0 325.5Z"/><path d="M482.2 325.0 481.2 325.0 480.5 324.7 479.8 324.2 479.0 323.5 478.3 322.5 477.8 321.5 477.5 320.5 477.4 319.2 477.4 318.0 477.6 316.5 478.4 313.5 480.8 307.9 481.2 307.2 481.5 307.2 481.8 307.4 482.2 308.0 484.2 311.3 485.1 313.0 486.0 315.5 486.4 317.8 486.3 319.2 486.1 320.5 485.8 321.8 485.3 322.8 484.8 323.5 484.0 324.3 483.2 324.7 482.2 325.0Z"/><path d="M483.0 324.0 482.2 324.2 481.2 324.2 480.5 323.9 479.8 323.3 479.1 322.5 478.6 321.8 478.3 320.8 478.0 319.5 478.0 318.2 478.1 316.8 478.4 315.2 478.9 314.0 479.5 312.6 480.2 311.5 481.0 310.8 481.5 310.6 482.0 310.7 482.8 311.1 483.5 311.8 484.2 312.8 484.8 313.8 485.3 315.0 485.8 317.2 485.8 319.5 485.3 321.5 484.8 322.5 484.2 323.1 483.8 323.6 483.0 324.0Z"/><path d="M482.5 323.3 481.8 323.4 481.2 323.3 480.5 322.9 480.0 322.5 479.5 321.9 479.0 321.0 478.7 320.0 478.6 319.0 478.7 316.8 479.0 315.6 479.4 314.5 480.0 313.5 480.5 312.9 481.2 312.4 481.8 312.2 482.2 312.3 483.0 312.7 483.5 313.2 484.1 314.0 484.9 315.8 485.3 317.8 485.2 319.8 484.6 321.5 484.1 322.2 483.6 322.8 482.5 323.3Z"/><path d="M482.0 322.5 481.0 322.3 480.5 321.9 480.0 321.3 479.4 320.0 479.2 318.5 479.3 316.8 480.0 315.0 480.8 314.0 481.2 313.6 481.8 313.5 482.2 313.5 482.8 313.7 483.2 314.1 483.8 314.8 484.4 316.2 484.7 318.0 484.6 319.8 484.0 321.2 483.5 321.8 483.0 322.2 482.0 322.5Z"/><path d="M482.5 321.5 482.0 321.6 481.5 321.5 480.8 321.1 480.1 320.0 479.8 318.8 479.9 317.2 480.2 316.0 481.0 315.0 481.8 314.6 482.5 314.7 483.2 315.4 483.9 316.5 484.1 317.8 484.1 319.0 483.8 320.2 483.2 321.0 482.5 321.5Z"/><path d="M482.2 320.5 481.5 320.4 481.0 320.0 480.6 319.2 480.5 318.5 480.5 317.5 480.9 316.5 481.5 315.9 482.0 315.8 482.5 316.0 483.0 316.5 483.3 317.2 483.4 318.0 483.4 318.8 483.2 319.5 482.8 320.2 482.2 320.5Z"/></g>
<ellipse cx="482" cy="321.5" rx="1.0" ry="2.2" fill="#fff" fill-opacity="0.8"/>
<path d="M389.50 301.90 H507.70 M446.90 233.50 V351.00" stroke="#1e1e1e" stroke-width="1.1"/>
<text x="364.45" y="243.80" font-size="9.2" text-anchor="start" fill="#1c1c1c" stroke="#1c1c1c" stroke-width="0.15" textLength="10.95" lengthAdjust="spacingAndGlyphs">10</text>
<text x="375.90" y="239.90" font-size="6.4" text-anchor="start" fill="#1c1c1c" stroke="#1c1c1c" stroke-width="0.15" >7</text>
<text x="364.45" y="268.30" font-size="9.2" text-anchor="start" fill="#1c1c1c" stroke="#1c1c1c" stroke-width="0.15" textLength="10.95" lengthAdjust="spacingAndGlyphs">10</text>
<text x="375.90" y="264.40" font-size="6.4" text-anchor="start" fill="#1c1c1c" stroke="#1c1c1c" stroke-width="0.15" >6</text>
<text x="364.45" y="297.90" font-size="9.2" text-anchor="start" fill="#1c1c1c" stroke="#1c1c1c" stroke-width="0.15" textLength="10.95" lengthAdjust="spacingAndGlyphs">10</text>
<text x="375.90" y="294.00" font-size="6.4" text-anchor="start" fill="#1c1c1c" stroke="#1c1c1c" stroke-width="0.15" >5</text>
<text x="364.45" y="328.70" font-size="9.2" text-anchor="start" fill="#1c1c1c" stroke="#1c1c1c" stroke-width="0.15" textLength="10.95" lengthAdjust="spacingAndGlyphs">10</text>
<text x="375.90" y="324.80" font-size="6.4" text-anchor="start" fill="#1c1c1c" stroke="#1c1c1c" stroke-width="0.15" >4</text>
<text x="375.70" y="336.80" font-size="9.2" text-anchor="end" fill="#1c1c1c" stroke="#1c1c1c" stroke-width="0.15" textLength="5.47" lengthAdjust="spacingAndGlyphs">0</text>
<text x="363.85" y="349.80" font-size="9.2" text-anchor="end" fill="#1c1c1c" stroke="#1c1c1c" stroke-width="0.15" >−</text>
<text x="364.15" y="349.80" font-size="9.2" text-anchor="start" fill="#1c1c1c" stroke="#1c1c1c" stroke-width="0.15" textLength="10.95" lengthAdjust="spacingAndGlyphs">10</text>
<text x="375.60" y="345.90" font-size="6.4" text-anchor="start" fill="#1c1c1c" stroke="#1c1c1c" stroke-width="0.15" >4</text>
<text x="414.30" y="369.50" font-size="9.2" text-anchor="start" fill="#1c1c1c" stroke="#1c1c1c" stroke-width="0.15" textLength="5.47" lengthAdjust="spacingAndGlyphs">0</text>
<text x="449.20" y="369.50" font-size="9.2" text-anchor="start" fill="#1c1c1c" stroke="#1c1c1c" stroke-width="0.15" textLength="10.95" lengthAdjust="spacingAndGlyphs">10</text>
<text x="460.65" y="365.60" font-size="6.4" text-anchor="start" fill="#1c1c1c" stroke="#1c1c1c" stroke-width="0.15" >5</text>
<text x="474.80" y="369.50" font-size="9.2" text-anchor="start" fill="#1c1c1c" stroke="#1c1c1c" stroke-width="0.15" textLength="10.95" lengthAdjust="spacingAndGlyphs">10</text>
<text x="486.25" y="365.60" font-size="6.4" text-anchor="start" fill="#1c1c1c" stroke="#1c1c1c" stroke-width="0.15" >6</text>
<text x="495.90" y="369.50" font-size="9.2" text-anchor="start" fill="#1c1c1c" stroke="#1c1c1c" stroke-width="0.15" textLength="10.95" lengthAdjust="spacingAndGlyphs">10</text>
<text x="507.35" y="365.60" font-size="6.4" text-anchor="start" fill="#1c1c1c" stroke="#1c1c1c" stroke-width="0.15" >7</text>
<text x="393.60" y="242.90" font-size="9.6" text-anchor="start" fill="#1c1c1c" stroke="#1c1c1c" stroke-width="0.15" textLength="19.62" lengthAdjust="spacingAndGlyphs">0.10</text>
<text x="505.60" y="242.90" font-size="9.6" text-anchor="end" fill="#1c1c1c" stroke="#1c1c1c" stroke-width="0.15" textLength="19.62" lengthAdjust="spacingAndGlyphs">55.3</text>
<text x="393.00" y="346.90" font-size="9.6" text-anchor="start" fill="#1c1c1c" stroke="#1c1c1c" stroke-width="0.15" textLength="19.62" lengthAdjust="spacingAndGlyphs">1.87</text>
<text x="504.60" y="346.70" font-size="9.6" text-anchor="end" fill="#1c1c1c" stroke="#1c1c1c" stroke-width="0.15" textLength="19.62" lengthAdjust="spacingAndGlyphs">42.7</text>
<text x="68.3" y="29" font-size="12" fill="#1c1c1c" textLength="98.8" lengthAdjust="spacingAndGlyphs">RAG1-SCID pt. #1</text>
<text x="229.9" y="29.4" font-size="12" fill="#1c1c1c" textLength="99.8" lengthAdjust="spacingAndGlyphs">RAG1-SCID pt. #2</text>
<text x="392.2" y="27.4" font-size="12" fill="#1c1c1c" textLength="99.8" lengthAdjust="spacingAndGlyphs">RAG1-SCID pt. #3</text>
<text x="67.2" y="206.3" font-size="12" fill="#1c1c1c" textLength="98.8" lengthAdjust="spacingAndGlyphs">RAG1-SCID pt. #1</text>
<text x="230.6" y="206.2" font-size="12" fill="#1c1c1c" textLength="100.2" lengthAdjust="spacingAndGlyphs">RAG1-SCID pt. #2</text>
<text x="397.2" y="206.2" font-size="12" fill="#1c1c1c" textLength="99.8" lengthAdjust="spacingAndGlyphs">RAG1-SCID pt. #3</text>
<text x="66.9" y="220.4" font-size="12" fill="#1c1c1c" textLength="58.7" lengthAdjust="spacingAndGlyphs">+ <tspan font-style="italic">RAG1</tspan> LV</text>
<text x="230.3" y="220" font-size="12" fill="#1c1c1c" textLength="58" lengthAdjust="spacingAndGlyphs">+ <tspan font-style="italic">RAG1</tspan> LV</text>
<text x="396.9" y="220" font-size="12" fill="#1c1c1c" textLength="57.5" lengthAdjust="spacingAndGlyphs">+ <tspan font-style="italic">RAG1</tspan> LV</text>
<text x="8.0" y="21.2" font-size="14.8" font-weight="bold" fill="#111">C</text>
<path d="M25.5 350.6 V45" stroke="#222" stroke-width="1.1"/>
<path d="M25.5 38 L29.6 47.8 L25.5 45.6 L21.4 47.8 Z" fill="#111"/>
<path d="M46.2 383.4 H502" stroke="#222" stroke-width="1.1"/>
<path d="M507.9 383.4 L498.6 379.4 L501 383.4 L498.6 387.4 Z" fill="#111"/>
<text transform="translate(18.4 230.6) rotate(-90)" font-size="10" fill="#1c1c1c" stroke="#1c1c1c" stroke-width="0.3" textLength="73" lengthAdjust="spacingAndGlyphs">c.o.RAG1 transgene</text>
<text x="232.6" y="396.9" font-size="10.6" fill="#1c1c1c" stroke="#1c1c1c" stroke-width="0.25" textLength="88" lengthAdjust="spacingAndGlyphs">RPL13a (housekeeping)</text>
<rect x="0.5" y="0.5" width="519" height="408" fill="none" stroke="#3a3a3a" stroke-width="1"/>
</svg>
</body></html>
